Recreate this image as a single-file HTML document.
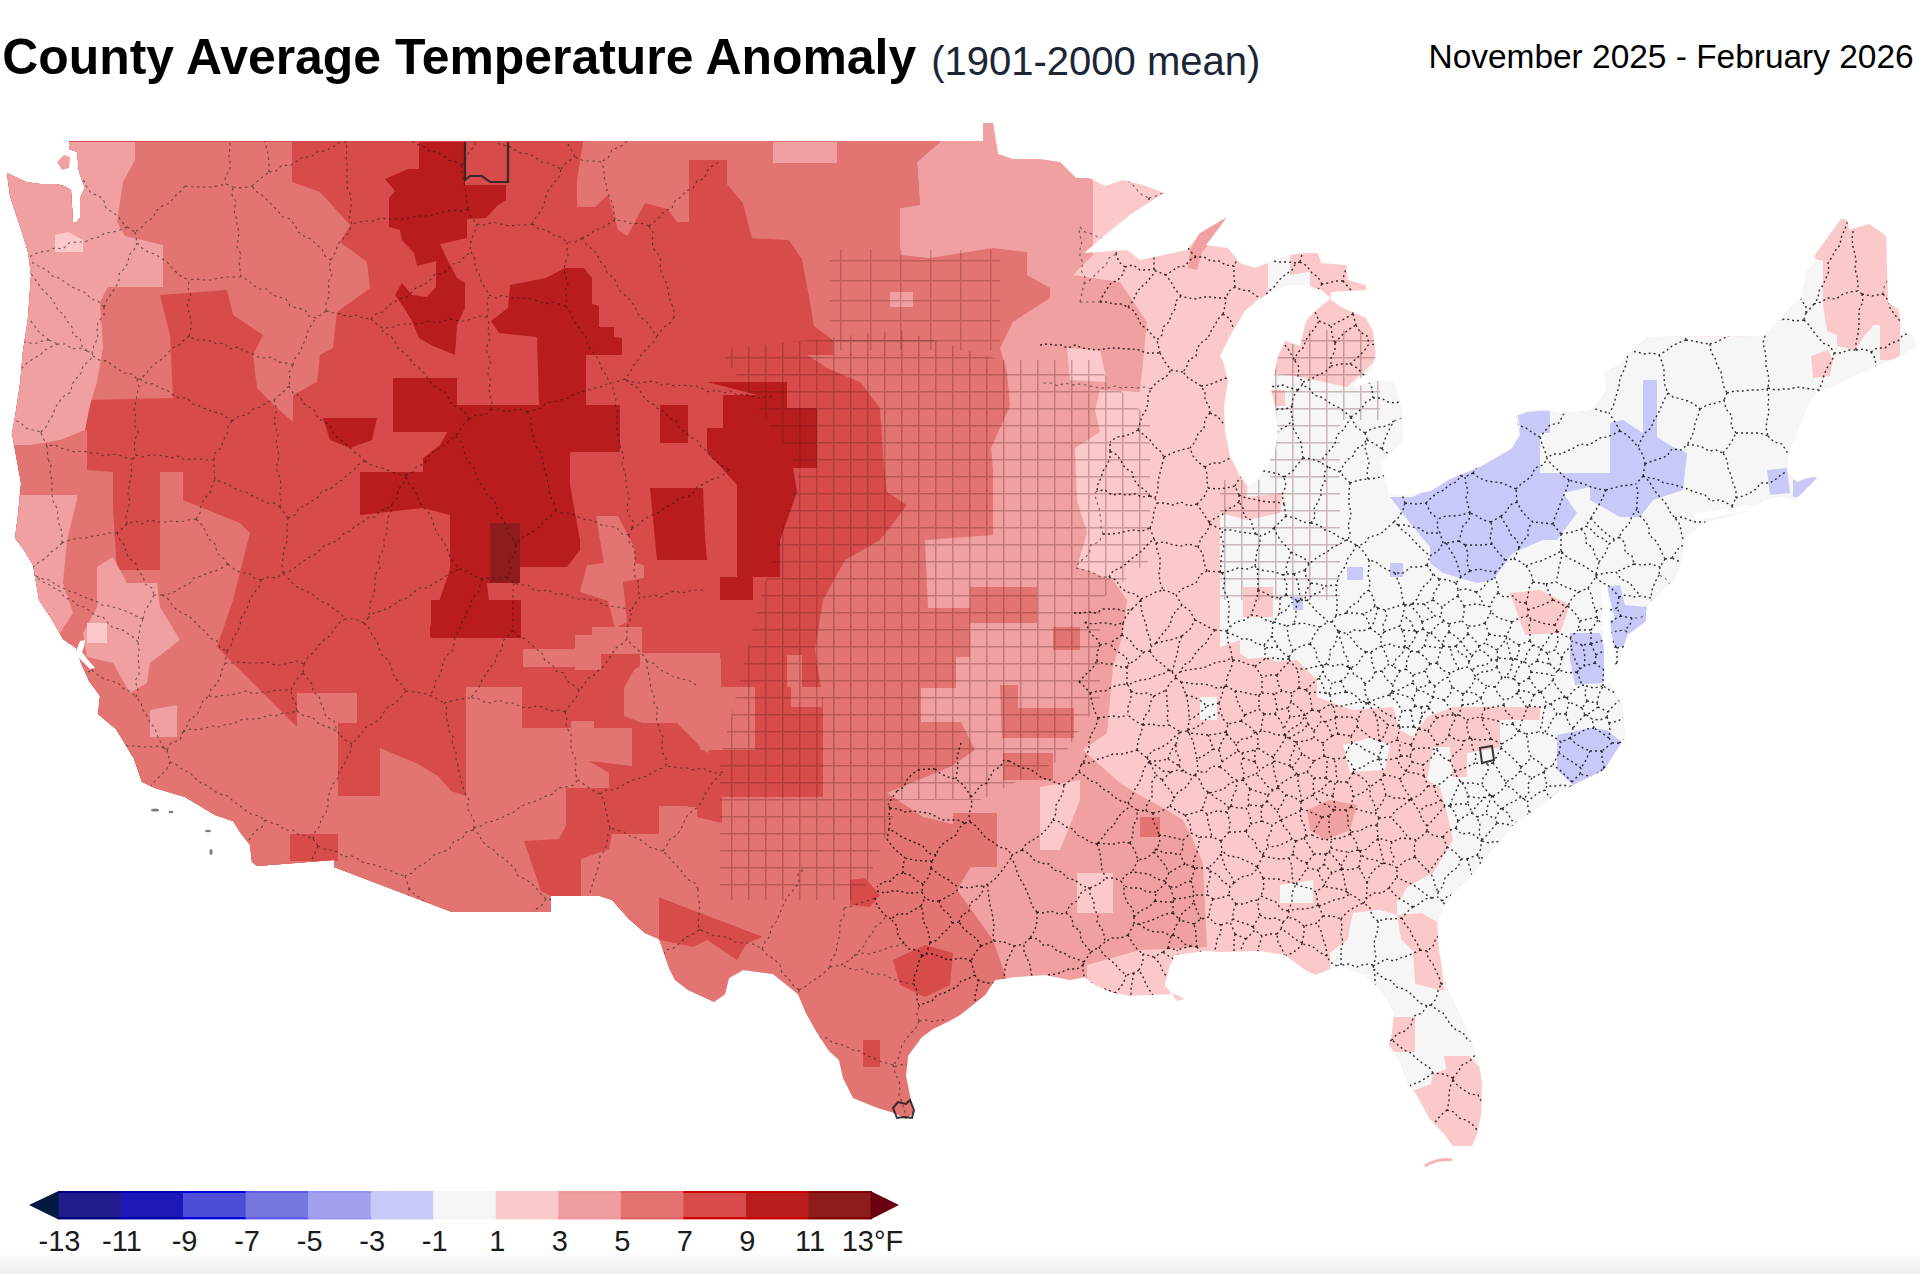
<!DOCTYPE html>
<html><head><meta charset="utf-8"><style>
html,body{margin:0;padding:0;background:#fff;width:1920px;height:1274px;overflow:hidden}
svg{position:absolute;left:0;top:0;display:block}
text{font-family:"Liberation Sans",sans-serif}
</style></head><body>
<svg width="1920" height="1274" viewBox="0 0 1920 1274">
<defs><clipPath id="us"><polygon points="69,141 983,141 983,123 993,123 998,154 1013,159 1039,159 1060,162 1076,178 1089,178 1105,186 1123,180 1146,186 1164,193 1131,214 1105,235 1084,253 1127,250 1140,260 1187,250 1200,233 1227,217 1206,245 1228,248 1240,263 1255,268 1275,260 1290,255 1305,253 1318,253 1321,263 1346,265 1348,280 1366,285 1366,290 1331,292 1331,300 1343,308 1366,318 1373,331 1376,356 1371,371 1356,381 1353,388 1376,381 1393,381 1401,406 1403,441 1380,462 1389,495 1409,495 1431,491 1450,479 1482,466 1511,449 1520,435 1516,416 1533,410 1551,411 1560,414 1593,410 1607,390 1605,372 1621,364 1625,358 1647,337 1764,336 1777,323 1791,307 1801,299 1807,271 1815,263 1815,255 1841,219 1847,220 1849,230 1869,224 1886,236 1888,303 1898,309 1902,327 1914,339 1916,346 1896,358 1876,366 1857,374 1837,384 1817,392 1809,402 1801,421 1793,441 1789,447 1787,472 1797,482 1813,476 1817,478 1795,500 1784,496 1764,500 1748,511 1703,523 1691,533 1684,537 1682,560 1674,580 1662,590 1648,604 1646,612 1646,621 1627,635 1620,659 1608,678 1622,706 1625,737 1604,770 1561,791 1514,824 1467,880 1453,892 1441,913 1437,922 1439,951 1446,986 1462,1019 1472,1045 1479,1064 1482,1085 1481,1115 1477,1134 1472,1146 1453,1146 1444,1134 1429,1118 1418,1097 1408,1083 1399,1059 1389,1045 1392,1033 1394,1012 1382,991 1364,974 1340,965 1315,975 1305,970 1285,955 1260,951 1220,952 1205,951 1175,955 1170,965 1165,985 1177,1001 1185,999 1175,994 1152,995 1130,996 1110,992 1090,982 1085,977 1070,980 1045,975 1015,977 995,980 985,995 960,1015 949,1021 933,1029 922,1037 916,1045 908,1056 906,1076 910,1096 914,1113 906,1119 894,1113 875,1107 853,1098 843,1078 839,1060 829,1051 816,1031 806,1013 798,994 788,986 773,974 743,970 729,978 725,994 714,1002 688,990 675,980 669,968 659,939 645,933 629,919 612,900 600,896 551,896 551,912 452,912 334,867 334,860 257,866 252,862 250,845 240,832 233,821 215,815 185,797 155,788 142,782 134,759 116,729 98,714 100,696 89,681 81,663 76,648 63,639 51,618 39,600 33,565 24,550 15,538 18,515 21,483 15,450 12,433 15,417 20,384 23,351 28,318 31,275 28,252 21,229 10,196 7,173 26,182 40,184 56,184 64,186 71,190 73,222 76,223 80,218 80,198 85,188 79,172 77,152 69,149"/></clipPath>
<pattern id="grid" width="17" height="17" patternUnits="userSpaceOnUse"><path d="M0 0H17M0 0V17" fill="none" stroke="#501414" stroke-opacity="0.28" stroke-width="3"/></pattern>
<pattern id="grid2" width="30" height="20" patternUnits="userSpaceOnUse"><path d="M0 0H30M0 0V20" fill="none" stroke="#501414" stroke-opacity="0.24" stroke-width="3"/></pattern>
<linearGradient id="sh" x1="0" y1="0" x2="0" y2="1"><stop offset="0" stop-color="#fff"/><stop offset="1" stop-color="#efefef"/></linearGradient></defs>
<rect x="0" y="1250" width="1920" height="24" fill="url(#sh)"/>
<text x="2.2" y="74" font-size="49.9" font-weight="bold" fill="#000">County Average Temperature Anomaly</text>
<text x="931.2" y="74.5" font-size="40" fill="#1b2536">(1901-2000 mean)</text>
<text x="1428.5" y="67.5" font-size="33.45" fill="#000">November 2025 - February 2026</text>
<polygon points="69,141 983,141 983,123 993,123 998,154 1013,159 1039,159 1060,162 1076,178 1089,178 1105,186 1123,180 1146,186 1164,193 1131,214 1105,235 1084,253 1127,250 1140,260 1187,250 1200,233 1227,217 1206,245 1228,248 1240,263 1255,268 1275,260 1290,255 1305,253 1318,253 1321,263 1346,265 1348,280 1366,285 1366,290 1331,292 1331,300 1343,308 1366,318 1373,331 1376,356 1371,371 1356,381 1353,388 1376,381 1393,381 1401,406 1403,441 1380,462 1389,495 1409,495 1431,491 1450,479 1482,466 1511,449 1520,435 1516,416 1533,410 1551,411 1560,414 1593,410 1607,390 1605,372 1621,364 1625,358 1647,337 1764,336 1777,323 1791,307 1801,299 1807,271 1815,263 1815,255 1841,219 1847,220 1849,230 1869,224 1886,236 1888,303 1898,309 1902,327 1914,339 1916,346 1896,358 1876,366 1857,374 1837,384 1817,392 1809,402 1801,421 1793,441 1789,447 1787,472 1797,482 1813,476 1817,478 1795,500 1784,496 1764,500 1748,511 1703,523 1691,533 1684,537 1682,560 1674,580 1662,590 1648,604 1646,612 1646,621 1627,635 1620,659 1608,678 1622,706 1625,737 1604,770 1561,791 1514,824 1467,880 1453,892 1441,913 1437,922 1439,951 1446,986 1462,1019 1472,1045 1479,1064 1482,1085 1481,1115 1477,1134 1472,1146 1453,1146 1444,1134 1429,1118 1418,1097 1408,1083 1399,1059 1389,1045 1392,1033 1394,1012 1382,991 1364,974 1340,965 1315,975 1305,970 1285,955 1260,951 1220,952 1205,951 1175,955 1170,965 1165,985 1177,1001 1185,999 1175,994 1152,995 1130,996 1110,992 1090,982 1085,977 1070,980 1045,975 1015,977 995,980 985,995 960,1015 949,1021 933,1029 922,1037 916,1045 908,1056 906,1076 910,1096 914,1113 906,1119 894,1113 875,1107 853,1098 843,1078 839,1060 829,1051 816,1031 806,1013 798,994 788,986 773,974 743,970 729,978 725,994 714,1002 688,990 675,980 669,968 659,939 645,933 629,919 612,900 600,896 551,896 551,912 452,912 334,867 334,860 257,866 252,862 250,845 240,832 233,821 215,815 185,797 155,788 142,782 134,759 116,729 98,714 100,696 89,681 81,663 76,648 63,639 51,618 39,600 33,565 24,550 15,538 18,515 21,483 15,450 12,433 15,417 20,384 23,351 28,318 31,275 28,252 21,229 10,196 7,173 26,182 40,184 56,184 64,186 71,190 73,222 76,223 80,218 80,198 85,188 79,172 77,152 69,149" fill="#fcc9ca"/><g clip-path="url(#us)"><polygon points="1273,373 1300,377 1347,387 1373,363 1390,290 1920,250 1920,1200 1300,1200 1300,975 1330,975 1330,953 1347,940 1353,913 1377,910 1400,900 1407,887 1433,873 1453,840 1447,813 1440,787 1427,780 1433,747 1450,747 1453,777 1467,777 1467,753 1500,747 1500,720 1540,720 1540,707 1453,707 1427,717 1413,737 1400,730 1393,707 1353,710 1333,703 1317,697 1317,680 1297,660 1253,663 1240,653 1240,640 1220,647 1220,513 1247,520 1280,513 1283,493 1247,497 1250,420 1262,380" fill="#f6f6f6"/><polygon points="1243,587 1273,587 1273,617 1243,617" fill="#fcc9ca"/><polygon points="1200,660 1237,660 1267,657 1300,673 1323,705 1200,705" fill="#fcc9ca"/><polygon points="1510,593 1540,590 1570,605 1560,633 1525,635" fill="#fcc9ca"/><polygon points="1433,747 1450,747 1453,777 1467,777 1467,753 1500,747 1500,720 1433,720" fill="#fcc9ca"/><polygon points="1330,880 1397,880 1397,915 1373,908 1349,911 1349,937 1330,945" fill="#fcc9ca"/><polygon points="1397,915 1422,913 1437,922 1444,991 1415,984 1413,951 1401,939" fill="#fcc9ca"/><polygon points="1389,1017 1415,1017 1415,1052 1389,1052" fill="#fcc9ca"/><polygon points="1444,1056 1470,1056 1478,1066 1500,1080 1500,1200 1400,1200 1400,1095 1415,1090 1431,1084 1433,1074 1446,1069" fill="#fcc9ca"/><polygon points="1815,200 1900,200 1900,360 1880,360 1880,325 1874,325 1865,335 1855,350 1837,346 1837,335 1827,331 1823,305 1823,261 1815,259" fill="#fcc9ca"/><polygon points="1811,356 1828,350 1833,360 1830,376 1813,378" fill="#fcc9ca"/><polygon points="1200,697 1217,697 1217,720 1200,720" fill="#f6f6f6"/><polygon points="1343,745 1370,738 1390,745 1385,770 1350,772" fill="#f6f6f6"/><polygon points="1280,885 1313,880 1313,903 1280,903" fill="#f6f6f6"/><polygon points="1390,497 1413,497 1453,477 1513,447 1520,427 1517,413 1550,410 1550,433 1540,433 1540,473 1610,473 1610,423 1623,420 1643,433 1643,380 1657,380 1657,437 1673,447 1687,453 1683,490 1653,500 1640,517 1620,517 1590,500 1590,487 1563,493 1577,513 1557,540 1543,540 1513,553 1493,580 1477,583 1443,573 1430,563 1430,547 1410,523" fill="#c9c9f9"/><polygon points="1347,567 1363,567 1363,580 1347,580" fill="#c9c9f9"/><polygon points="1390,563 1403,563 1403,577 1390,577" fill="#c9c9f9"/><polygon points="1293,597 1303,597 1303,610 1293,610" fill="#c9c9f9"/><polygon points="1767,470 1787,468 1790,493 1770,495" fill="#c9c9f9"/><polygon points="1793,480 1817,477 1817,497 1793,497" fill="#c9c9f9"/><polygon points="1607,587 1620,585 1625,605 1647,607 1647,630 1632,647 1620,640" fill="#c9c9f9"/><polygon points="1570,633 1600,633 1607,655 1603,683 1575,685 1570,660" fill="#c9c9f9"/><polygon points="1607,620 1647,620 1647,647 1615,647" fill="#c9c9f9"/><polygon points="1557,735 1590,728 1607,730 1625,745 1607,770 1575,787 1557,770" fill="#c9c9f9"/><polygon points="0,100 1093,100 1093,255 1073,275 1120,282 1147,322 1140,392 1100,390 1095,410 1100,432 1075,448 1077,500 1087,533 1077,567 1113,580 1127,600 1123,633 1113,667 1107,733 1083,750 1120,783 1143,797 1167,810 1183,820 1193,840 1203,863 1207,947 1140,950 1087,965 1087,1000 0,1200" fill="#f0a0a0"/><polygon points="1040,787 1080,780 1080,800 1060,850 1040,850" fill="#fcc9ca"/><polygon points="1077,873 1113,873 1113,913 1077,913" fill="#fcc9ca"/><polygon points="1067,348 1100,350 1107,382 1070,380" fill="#fcc9ca"/><polygon points="0,100 940,100 940,142 917,162 920,205 900,208 900,255 930,258 993,248 1027,252 1027,275 1050,288 1050,298 1013,322 1000,348 1007,372 1010,406 991,448 993,470 993,535 925,540 928,608 970,608 970,657 956,657 956,688 921,688 921,722 961,722 975,750 950,767 887,793 923,817 990,833 973,863 957,890 993,940 1007,980 1007,1200 0,1200" fill="#e27471"/><polygon points="970,587 1037,587 1037,623 970,623" fill="#e27471"/><polygon points="1000,685 1018,685 1018,708 1074,708 1074,738 1002,738" fill="#e27471"/><polygon points="1003,753 1053,753 1053,780 1003,780" fill="#e27471"/><polygon points="953,813 997,813 997,867 953,867" fill="#e27471"/><polygon points="1053,627 1080,627 1080,650 1053,650" fill="#e27471"/><polygon points="0,100 640,100 627,100 627,236 645,203 668,209 677,222 689,222 689,160 727,160 727,184 743,203 752,238 789,240 802,259 810,301 814,326 833,340 833,355 807,355 827,368 860,382 880,408 883,455 887,492 907,505 880,540 845,560 823,600 815,650 823,700 823,797 722,797 722,823 697,817 697,807 660,807 660,840 640,840 640,890 763,937 747,943 737,960 707,940 693,947 660,940 0,940" fill="#d84b4b"/><polygon points="0,142 135,142 292,142 292,182 320,192 350,225 340,242 367,262 370,288 337,312 333,348 320,355 317,382 293,395 293,422 277,408 257,388 253,355 263,335 233,315 227,290 160,295 170,335 173,398 90,400 85,430 60,440 0,445" fill="#e27471"/><polygon points="583,100 940,100 940,142 917,162 920,205 900,208 900,255 833,340 814,326 810,301 802,259 789,240 752,238 743,203 727,184 727,160 689,160 689,222 677,222 668,209 645,203 627,236 618,230 608,195 595,207 577,207 577,180 583,142" fill="#e27471"/><polygon points="773,142 837,142 837,163 773,163" fill="#f0a0a0"/><polygon points="0,435 87,430 87,470 113,472 160,472 183,472 183,500 240,523 250,533 233,600 217,647 297,727 297,693 357,693 357,723 338,723 338,796 355,796 380,796 380,748 416,763 438,776 451,791 466,796 466,687 522,687 522,728 571,728 571,721 594,721 594,728 632,728 632,766 589,761 609,773 609,788 566,788 566,826 559,839 524,841 541,891 551,896 581,896 581,859 609,849 612,834 659,834 659,806 687,806 705,826 720,826 720,889 659,889 659,960 0,960" fill="#e27471"/><polygon points="113,472 160,472 160,570 117,570 113,508" fill="#d84b4b"/><polygon points="290,834 338,834 338,861 290,861" fill="#d84b4b"/><polygon points="634,670 657,655 677,663 687,658 720,660 720,738 707,753 692,738 677,723 642,723 624,716 624,688" fill="#e27471"/><polygon points="523,649 575,649 575,635 592,635 592,627 642,627 642,654 601,654 601,670 575,670 575,667 523,667" fill="#e27471"/><polygon points="596,516 618,516 635,549 635,563 644,565 644,578 623,582 627,622 615,628 608,601 580,592 587,565 604,563 601,546" fill="#e27471"/><polygon points="640,653 720,653 720,717 640,717" fill="#e27471"/><polygon points="640,840 660,840 660,890 640,890" fill="#e27471"/><polygon points="0,142 135,142 135,160 123,182 117,222 125,236 163,245 163,287 108,287 100,302 103,348 97,382 90,405 85,430 60,440 30,445 0,445" fill="#f0a0a0"/><polygon points="0,495 77,495 77,500 67,540 63,583 73,613 60,633 40,640 0,640" fill="#f0a0a0"/><polygon points="97,567 113,557 127,583 157,583 160,607 180,640 150,663 147,683 130,693 113,663 87,657 83,633 97,607" fill="#f0a0a0"/><polygon points="150,710 177,705 177,737 150,737" fill="#f0a0a0"/><polygon points="55,235 68,232 83,240 83,252 55,252" fill="#fcc9ca"/><polygon points="87,623 107,623 107,643 87,643" fill="#fcc9ca"/><polygon points="419,142 465,142 465,185 506,185 506,200 497,206 486,218 467,219 467,238 440,244 448,261 457,278 465,283 465,308 457,325 455,355 433,346 419,338 412,321 404,308 395,295 402,283 412,295 427,297 436,287 436,261 417,266 414,253 402,240 400,230 389,227 389,198 395,191 385,179 408,169 419,169" fill="#b81c1c"/><polygon points="510,285 546,278 565,268 584,268 592,278 592,304 599,306 599,327 614,327 614,337 622,338 622,355 586,355 586,405 620,405 620,452 570,452 570,485 580,540 580,550 567,567 520,567 520,583 487,583 493,637 430,637 430,627 450,570 450,515 423,508 360,515 360,472 423,472 423,458 440,445 457,415 457,405 539,405 537,337 499,333 491,321 508,308" fill="#b81c1c"/><polygon points="393,378 457,378 457,432 393,432" fill="#b81c1c"/><polygon points="323,418 377,418 372,440 350,448 330,440" fill="#b81c1c"/><polygon points="707,382 787,382 787,408 817,408 817,468 793,468 797,492 780,540 780,577 753,577 753,600 720,600 720,577 737,577 737,485 707,452 707,428 723,428 723,395 757,395" fill="#b81c1c"/><polygon points="660,405 688,405 688,443 660,443" fill="#b81c1c"/><polygon points="650,488 703,488 705,537 707,560 657,560" fill="#b81c1c"/><polygon points="431,600 521,600 521,638 431,638" fill="#b81c1c"/><polygon points="490,523 520,523 520,583 490,583" fill="#8f1c1c"/><polygon points="893,960 925,945 953,953 950,985 925,997 900,985" fill="#d84b4b"/><polygon points="850,880 865,878 880,895 870,907 850,905" fill="#d84b4b"/><polygon points="863,1040 880,1040 880,1067 863,1067" fill="#d84b4b"/><polygon points="1268,258 1290,255 1290,275 1310,272 1310,293 1268,293" fill="#f6f6f6"/><polygon points="1307,810 1330,800 1357,805 1350,830 1325,840 1310,830" fill="#f0a0a0"/><polygon points="1270,390 1285,390 1285,406 1270,406" fill="#fcc9ca"/><polygon points="1188,268 1190,250 1200,233 1227,217 1212,240 1202,252 1197,270" fill="#f0a0a0"/><polygon points="890,292 913,292 913,307 890,307" fill="#f0a0a0"/><polygon points="1140,817 1160,817 1160,837 1140,837" fill="#e27471"/><polygon points="700,659 721,659 721,687 755,687 755,750 700,750" fill="#e27471"/><polygon points="787,655 802,655 802,687 822,687 822,707 791,707 791,687 787,687" fill="#e27471"/></g><g clip-path="url(#us)"><polygon points="720,350 900,330 1000,360 1090,360 1150,420 1150,560 1100,600 1100,700 1060,760 980,800 900,800 860,900 720,900 720,760 760,600 800,470" fill="url(#grid)"/><polygon points="1270,330 1380,330 1380,420 1340,420 1340,600 1220,600 1220,480 1270,480" fill="url(#grid)"/><polygon points="830,250 1000,250 1000,350 830,350" fill="url(#grid2)"/></g><g clip-path="url(#us)" fill="none" stroke="#1a1a1a"><path d="M1607 717L1608 712M1607 717L1609 723M1608 712L1614 705L1620 700M1609 723L1618 721L1626 716M1635 769L1632 762L1628 756L1623 750L1619 743M1619 743L1629 736M1109 577L1113 571L1120 568L1126 564L1131 559L1138 554L1143 550L1148 544L1154 539M1103 534L1111 534L1119 533L1127 531L1134 530L1142 531L1150 528M1154 539L1150 528M1110 451L1110 442M1110 451L1110 458L1107 465L1103 471L1101 478L1098 484L1097 491M1138 430L1131 434L1124 436L1117 437L1110 442M1138 430L1140 423L1142 416L1146 410L1148 403L1148 396L1151 389M1150 496L1145 490L1139 486L1134 480L1132 472L1125 468L1121 461L1117 455L1110 451M1150 496L1142 497L1135 494L1127 495L1120 494L1112 495L1105 490L1097 491M890 808L898 809L905 812L913 811L920 812L928 813L935 816L942 820L950 820L958 820L965 823M890 808L889 815L890 822L889 829M965 823L959 828L956 835L950 839L944 843L939 848L936 855M936 855L928 853L923 846L916 843L909 840L902 837L896 833L889 829M903 873L903 865L905 858M903 873L896 875L891 881L883 882L877 887M887 839L892 846L898 852L905 858M931 868L929 877L923 884M931 868L932 861M923 884L916 880L910 875L903 873M932 861L923 861L914 860L905 858M890 808L888 805M889 829L887 839M936 855L932 861M914 984L917 991L917 999L919 1006M922 956L926 954M922 956L918 963L917 970L914 977L914 984M926 954L933 954L941 957L948 960L956 959L964 958L971 961M971 961L973 968L975 975M975 975L968 979L961 981L957 987L950 990L944 993L937 995L932 1001L925 1003L919 1006M1587 701L1585 694L1586 686M1587 701L1582 708M1567 698L1569 702M1567 698L1574 690L1582 685M1582 708L1576 705L1569 702M1582 685L1586 686M1587 701L1597 703M1597 703L1599 694L1603 686M1586 686L1594 688L1603 686M1597 703L1598 707M1598 707L1608 712M1619 694L1611 691L1603 686M1603 686L1603 686M1609 723L1610 730L1609 738M1619 743L1612 743M1609 738L1612 743M1427 565L1419 567L1411 567L1403 573L1395 573M1427 565L1430 556M1395 573L1388 570L1382 567L1376 562L1369 560M1398 525L1403 531L1409 535L1414 541L1419 546L1424 551L1430 556M1398 525L1394 522M1394 522L1388 527L1383 532L1377 535L1369 537L1365 543L1358 546M1369 560L1364 552L1358 546M1155 498L1158 490L1158 481L1160 473L1162 465L1164 457M1155 498L1157 503M1157 503L1165 503L1173 505L1181 502L1189 506L1197 504M1205 467L1207 474L1207 481L1208 488M1205 467L1198 462L1193 456L1190 448M1197 504L1204 497L1208 488M1164 457L1172 453L1181 450L1190 448M1150 496L1155 498M1138 430L1144 435L1150 440L1154 446L1160 451L1164 457M1150 528L1153 520L1154 511L1157 503M897 791L904 787L907 780L912 774L918 770M897 791L892 798L888 805M965 823L970 822M970 822L969 814L972 805L971 797M918 770L926 769L935 769M935 769L941 774L948 777L956 779M971 797L967 790L962 784L956 779M1009 761L1015 764L1022 768L1030 769L1036 773L1042 778L1050 780L1056 783L1064 785M1009 761L1004 760M970 822L976 826L981 832L986 838L993 842L999 847L1007 849L1012 855M1022 850L1012 855M1022 850L1026 844L1033 840L1039 836L1044 832L1049 826L1053 820M1053 820L1056 813L1056 805L1060 799L1063 792L1064 785M971 797L976 792L980 786L987 783L990 777L994 770L1000 767L1004 760M975 975L978 980M970 1020L971 1012L975 1004L975 996L977 988L978 980M1064 785L1072 779L1079 772M1081 765L1079 772M959 922L962 915L969 911L970 903L977 899L982 893L984 886M959 922L952 923M952 923L950 915L942 909L939 901M939 901L947 897L954 893L961 887M961 887L969 888L977 886L984 886M981 946L977 939L970 934L964 929L959 922M981 946L994 941M994 941L993 934L994 926L993 919L992 912L990 905L989 898L988 891L988 884M988 884L984 886M981 946L975 953L971 961M930 943L937 940L942 934L948 929L952 923M930 943L926 954M931 868L937 873L943 877L949 880L954 885L961 887M1012 855L1011 858M1011 858L1006 865L1001 872L995 879L988 884M930 943L929 935L927 928L923 921L923 913L921 906M939 901L932 901L925 898M921 906L925 898M923 884L922 892M877 891L885 893L892 891L900 891L907 893L915 893L922 892M922 892L925 898M904 943L898 936L897 926L891 919M891 919L886 916M922 956L918 950L909 949L904 943M921 906L914 910L907 914L898 914L891 919M875 898L877 905L881 911L886 916M1476 592L1467 589L1458 590M1476 592L1483 588L1488 581L1495 578M1470 571L1461 577M1470 571L1479 569L1487 571L1495 572M1461 577L1456 583M1495 572L1495 578M1456 583L1458 590M1607 717L1600 720L1592 719M1609 738L1602 733L1594 728M1594 728L1592 719M1598 707L1587 715M1592 719L1587 715M1582 708L1585 715M1587 715L1585 715M1395 573L1398 581L1401 588L1402 596L1404 604M1404 604L1395 607L1385 610M1378 608L1385 610M1378 608L1375 606M1369 560L1369 567L1368 575L1370 582L1369 590M1375 606L1373 597L1369 590M1375 606L1370 611L1363 614M1369 590L1362 595L1358 602L1351 606L1346 613M1346 613L1354 613L1363 614M1378 608L1376 615L1374 622L1370 628M1363 614L1368 620L1370 628M1311 523L1319 525L1325 530L1332 532L1339 537L1346 540M1311 523L1315 517L1314 509L1318 502L1321 495L1321 488L1325 481L1324 473L1328 467M1350 483L1345 478L1340 472M1350 483L1349 491L1349 498L1349 505L1351 512L1350 519L1348 526L1350 533L1348 540M1340 472L1328 467M1346 540L1348 540M1250 345L1244 339L1239 333L1233 327L1230 319L1223 314M1250 345L1247 352L1241 357L1236 363L1234 371L1230 377M1201 386L1209 385L1216 382L1223 379L1230 377M1201 386L1195 382L1188 378L1183 372M1223 314L1218 319L1215 325L1211 331L1208 338L1202 342L1197 348L1196 356L1189 360L1187 366L1183 372M1281 342L1280 334L1278 326L1280 318L1278 311M1281 342L1273 344L1265 341L1258 344L1250 345M1278 311L1270 306L1263 298M1263 298L1256 296L1250 291L1242 290L1235 287M1235 287L1229 291L1226 298M1223 314L1225 306L1226 298M1040 345L1047 344L1054 345L1061 345L1068 348L1075 345L1082 348L1089 349L1096 350L1104 349L1111 348L1118 348L1125 349L1132 349L1139 350L1146 353L1153 353L1160 353M1151 389L1157 382L1166 377L1171 370M1160 353L1165 362L1171 370M1210 413L1205 419L1204 428L1198 434L1195 442L1190 448M1210 413L1209 406L1205 400L1205 392L1201 386M1171 370L1183 372M1239 495L1235 486M1239 495L1246 498L1253 499L1261 501L1269 502L1277 502L1284 504M1235 486L1239 479L1245 473L1250 466M1250 466L1257 466L1263 471L1270 472L1278 474L1284 477M1284 504L1282 495L1286 486L1284 477M1239 502L1239 495M1239 502L1233 507L1227 509L1222 515L1215 518L1209 522M1209 522L1205 516L1201 510L1197 504M1208 488L1217 489L1226 488L1235 486M1286 516L1280 522L1274 528M1286 516L1284 504M1256 534L1260 536M1256 534L1253 528L1251 520L1244 516L1243 508L1239 502M1274 528L1268 533L1260 536M1244 455L1250 466M1244 455L1236 457L1228 459L1221 463L1212 463L1205 467M1311 523L1303 522L1295 518L1286 516M1303 458L1297 465L1292 472L1284 477M1303 458L1312 459L1320 462M1328 467L1320 462M1231 426L1234 433L1237 441L1240 448L1244 455M1231 426L1237 423L1244 422L1251 418L1258 417L1265 417L1271 411L1278 409L1286 409L1292 406M1244 455L1251 451L1256 446L1262 442L1268 438L1275 434L1281 429L1287 426L1293 420M1292 406L1291 413L1293 420M1210 413L1217 416L1223 423L1231 426M1244 455L1244 455M1298 390L1293 397L1292 406M1298 390L1290 388L1283 385L1275 387L1268 385L1261 381L1252 384L1245 382L1238 379L1230 377M1303 458L1302 450L1301 443L1297 435L1293 428L1293 420M1100 302L1103 295L1107 289L1111 283L1118 280L1123 274L1125 267M1125 267L1119 262L1116 254M1149 198L1149 206L1153 212L1154 219M1116 254L1118 246M1263 298L1268 292L1274 287L1279 280L1285 275L1292 270L1296 263M1235 287L1234 277L1234 266M1238 257L1234 266M1296 263L1288 262L1280 262L1272 261L1264 258L1256 258L1249 254L1240 255M956 779L957 772L958 765L957 757L959 750L961 743M1037 912L1044 913L1051 911L1059 914L1066 913M1037 912L1032 906L1030 899L1027 892L1024 885L1020 879L1017 872L1015 864L1011 858M1022 850L1029 854L1034 860L1041 863L1049 864L1054 870L1062 872L1067 878L1075 880L1081 885L1088 888M1066 913L1070 905L1077 901L1081 893L1088 888M994 941L1004 942L1014 946M978 980L986 983L993 983L1001 985M1001 985L1004 977L1005 969L1007 961L1011 953L1014 946M1037 912L1037 921L1035 930L1030 938M1030 938L1024 944M1014 946L1024 944M1453 1080L1458 1086L1464 1090L1470 1094L1478 1095L1482 1102L1489 1105L1494 1111L1501 1114L1508 1116L1513 1122M1453 1080L1450 1087L1449 1094L1449 1102L1447 1110M1447 1110L1454 1112L1459 1118L1466 1120L1472 1124L1477 1130L1485 1131L1490 1135M1053 820L1060 822L1066 827L1073 829L1077 835L1084 838L1090 842L1097 844M1088 888L1090 888M1090 888L1099 884L1106 878M1097 844L1100 852L1101 861L1102 870L1106 878M1098 718L1105 717L1113 716L1120 717L1128 715M1098 718L1096 726L1092 733L1089 740L1089 749L1086 756L1083 763M1083 763L1091 763L1098 759L1106 757L1113 754L1122 754L1130 752L1137 750M1137 750L1138 741L1141 733L1143 725M1143 725L1135 721L1128 715M1079 682L1085 687L1090 693M1090 693L1092 702L1094 710L1098 718M1081 765L1083 763M1090 693L1098 691L1105 691L1112 687L1119 685L1127 684M1131 691L1131 699L1128 707L1128 715M1131 691L1128 685M1127 684L1128 685M1085 622L1092 624L1100 623L1108 623L1115 625L1123 623M1074 613L1081 613L1089 612L1096 613L1103 609L1110 609L1117 609L1124 611L1132 609M1123 623L1126 616L1132 609M1220 572L1207 571M1220 572L1221 565L1221 558L1223 551L1224 544L1221 537L1223 530M1207 571L1204 563L1203 554L1198 547M1198 547L1201 538L1207 532L1210 524M1210 524L1216 527L1223 530M1256 534L1248 533L1240 532L1232 530L1223 530M1222 573L1220 572M1222 573L1230 571L1238 568L1247 569L1255 566M1255 566L1256 558L1257 551L1260 544L1260 536M1154 539L1156 543M1209 522L1210 524M1156 543L1164 542L1173 545L1181 546L1189 544L1198 547M1464 606L1464 613L1462 621M1464 606L1474 604L1483 605M1485 623L1477 626L1468 626M1485 623L1491 612M1462 621L1468 626M1483 605L1490 607M1491 612L1490 607M1458 596L1464 606M1458 596L1458 590M1476 592L1481 598L1483 605M1468 634L1468 626M1468 634L1461 641M1449 632L1449 624M1449 632L1455 636L1461 641M1449 624L1462 621M1461 641L1461 641M1498 593L1493 599L1490 607M1498 593L1498 585L1495 578M1557 631L1558 641L1555 650M1557 631L1550 635L1546 643L1541 648M1555 650L1547 653M1547 653L1541 649M1541 648L1541 649M1603 686L1603 678L1604 670M1618 664L1617 663M1617 663L1611 667L1604 670M1557 631L1555 625M1557 631L1557 631M1530 641L1533 645M1530 641L1530 633L1529 626L1531 619M1533 645L1541 648M1555 625L1546 624L1539 622L1531 619M1498 593L1504 597L1513 596L1518 602L1526 603M1512 622L1519 618L1528 616M1512 622L1505 620L1497 617L1491 612M1526 603L1528 610M1528 616L1528 610M1343 281L1349 288L1356 295M1343 281L1335 281L1328 283L1322 284M1353 314L1346 318L1338 322L1331 326M1353 314L1353 304L1356 295M1322 284L1317 291L1312 298M1312 298L1312 306L1316 314L1319 321M1319 321L1331 326M1349 261L1347 267L1344 274L1343 281M1301 245L1302 254L1300 262M1300 262L1307 266L1312 273L1318 277L1322 284M1278 311L1285 307L1292 305L1298 303L1305 300L1312 298M1300 262L1296 263M1281 342L1287 347L1291 354L1295 361M1295 361L1297 353L1303 348L1306 340L1310 334L1315 328L1319 321M1351 417L1347 424L1343 430L1337 435L1335 444L1330 450L1325 456L1320 462M1351 417L1356 427L1365 433M1340 472L1343 466L1347 460L1353 456L1356 449L1363 445L1367 439M1365 433L1367 439M1350 483L1359 480L1368 479M1368 479L1367 471L1369 463L1367 455L1365 448L1367 440M1367 440L1367 439M1394 522L1399 517L1403 510L1405 503M1358 546L1356 545M1368 479L1377 478L1386 475L1396 476M1356 545L1348 540M1405 503L1402 494L1398 486L1396 476M1848 217L1851 224L1853 232L1852 239L1853 247L1855 254L1856 261L1855 269L1857 276L1858 284L1858 291M1848 217L1847 224L1844 231L1841 238L1840 245L1835 251L1832 257L1828 263L1829 271L1826 278L1823 285L1819 291L1818 298L1814 304M1814 304L1821 302L1828 298L1836 299L1843 294L1850 292L1858 291M1862 294L1858 291M1862 294L1872 296L1883 294M1806 313L1806 306L1801 300L1799 292L1798 285L1795 279L1795 271L1793 264L1791 257L1787 251L1787 244L1783 237L1779 231L1781 223L1777 217M1806 313L1814 304M1643 476L1649 481L1653 488L1657 494L1662 499L1667 505L1670 512L1675 518M1643 476L1650 478L1657 479L1664 483L1671 484L1678 486L1685 488L1692 491L1698 493L1705 495L1711 501L1719 500L1725 502L1732 506M1675 518L1682 517L1689 520L1696 522L1704 522L1711 524L1719 521L1726 524M1732 506L1733 513L1733 520M1665 559L1672 558M1665 559L1662 553L1659 546L1655 540L1649 535L1649 527L1645 521L1640 516L1637 509M1643 476L1636 484M1643 476L1643 476M1672 558L1678 549L1686 543M1686 543L1682 537L1681 530L1679 523L1675 518M1637 509L1637 501L1638 492L1636 484M1739 602L1733 598L1727 595L1722 589L1714 587L1710 581L1702 579L1696 574L1690 570L1685 564L1678 561L1672 558M1530 641L1519 645M1533 645L1527 653L1525 662M1519 645L1519 652L1516 659M1516 659L1522 662M1525 662L1522 662M1226 298L1218 298L1211 297L1203 297L1196 299L1188 298L1181 296M1160 353L1157 340M1181 296L1176 301L1175 309L1171 315L1169 322L1163 327L1162 335L1157 340M1100 302L1107 302L1114 304L1121 304L1128 307M1128 307L1134 311L1138 318L1141 325L1147 329L1152 335L1157 340M1196 257L1189 250L1187 240M1196 257L1190 260L1185 266L1178 267L1172 271L1166 275M1151 243L1154 251L1154 260L1154 269M1166 275L1156 271M1154 269L1156 271M1234 266L1226 265L1219 261L1211 261L1204 257L1196 257M1181 296L1175 289L1171 282L1166 275M1125 267L1133 265L1140 270L1147 270L1154 269M1128 307L1133 301L1136 294L1140 288L1146 283L1151 277L1156 271M1034 980L1031 973L1030 965L1027 958L1024 952L1024 944M1447 1110L1441 1115L1436 1121L1433 1128L1427 1134L1423 1140M1127 667L1129 664M1127 667L1119 667L1112 664L1104 664L1097 661M1129 664L1126 657L1120 653L1114 649L1110 643M1097 661L1097 653L1100 645M1100 645L1110 643M1169 670L1163 674L1155 676L1149 679L1141 680L1134 682L1128 685M1169 670L1162 664L1155 659L1150 651M1127 684L1127 675L1127 667M1150 651L1144 652M1144 652L1137 659L1129 664M1079 682L1085 675L1092 669L1097 661M1122 635L1130 640L1135 648L1144 652M1122 635L1110 643M1085 622L1088 628L1091 634L1097 639L1100 645M1123 623L1122 635M1141 599L1141 600M1141 599L1148 596L1156 592L1163 590M1141 600L1141 608L1143 616L1146 624L1147 631L1150 639L1151 647M1163 590L1170 592L1176 595M1156 643L1160 637L1165 631L1170 625L1172 617L1176 611L1182 605M1156 643L1151 647M1176 595L1182 605M1109 577L1116 580L1121 588L1127 592L1135 594L1141 599M1132 609L1141 600M1156 543L1157 550L1160 558L1160 566L1159 574L1160 582L1163 590M1150 651L1151 647M1207 571L1200 575L1196 583L1189 586L1182 589L1176 595M1182 636L1190 629L1195 620M1182 636L1174 639L1165 641L1156 643M1195 620L1190 611L1182 605M1169 670L1172 672M1172 672L1174 665L1176 658L1178 650L1179 643L1182 636M1154 696L1150 703L1149 711L1144 717L1143 725M1154 696L1166 690M1166 690L1167 697L1167 704L1168 711L1167 718L1169 725M1143 725L1152 724L1160 726L1169 725M1131 691L1138 694L1147 693L1154 696M1143 725L1143 725M1176 678L1170 683L1166 690M1176 678L1175 676M1172 672L1175 676M1175 676L1180 672M1195 620L1201 623L1208 627L1215 630M1215 630L1210 636L1206 643L1200 648L1195 654L1191 661L1184 665L1180 672M1449 632L1444 638L1443 645M1449 624L1444 621M1443 645L1437 639L1431 633M1431 633L1436 626L1444 621M1417 632L1423 629M1417 632L1414 640L1408 648M1418 652L1411 651M1418 652L1424 646M1424 646L1428 633M1423 629L1428 633M1408 648L1411 651M1497 650L1485 643M1497 650L1502 645L1506 639M1506 639L1507 637M1489 634L1485 643M1489 634L1497 636L1506 636M1506 636L1507 637M1511 659L1498 658M1511 659L1509 649L1506 639M1498 658L1497 650M1519 645L1512 641L1507 637M1516 659L1513 659M1511 659L1513 659M1468 634L1474 639L1479 646M1485 623L1489 634M1479 646L1485 643M1512 622L1510 629L1506 636M1531 619L1528 616M1479 646L1478 649M1497 660L1498 658M1497 660L1492 660M1492 660L1486 653L1478 649M1456 646L1459 653L1466 656L1469 662M1456 646L1461 641M1461 641L1466 649L1472 656M1469 662L1472 656M1472 656L1478 649M1537 661L1550 664M1537 661L1529 666M1531 672L1529 666M1531 672L1539 673L1547 674L1554 676M1550 664L1557 671M1557 671L1554 676M1547 653L1550 664M1541 649L1537 661M1525 662L1529 666M1559 670L1562 658M1559 670L1557 671M1562 658L1555 650M1567 698L1565 697M1565 697L1561 692L1556 686L1553 680M1577 672L1582 685M1577 672L1568 673L1559 670M1553 680L1554 676M1580 669L1584 666M1580 669L1576 662L1573 654L1571 647M1584 666L1585 658L1584 651L1582 645M1582 645L1572 641M1571 647L1572 641M1577 672L1580 669M1604 670L1595 663M1595 663L1584 666M1562 658L1565 651L1571 647M1595 663L1596 655M1596 655L1591 644M1591 644L1582 645M1557 631L1563 635L1570 638M1570 638L1572 641M1495 572L1501 567L1505 560M1526 603L1528 596L1529 588L1533 582M1505 560L1514 559M1514 559L1521 562L1526 566M1526 566L1531 573L1533 582M1561 534L1561 542L1561 551M1561 534L1553 524M1514 559L1519 548M1519 548L1523 541L1528 536L1528 528L1533 522M1553 524L1543 523L1533 522M1526 566L1533 563L1541 561L1547 558L1554 555L1561 551M1553 600L1560 603L1566 607M1553 600L1549 593L1546 584M1546 584L1556 582M1556 582L1563 586L1571 589L1579 592M1579 592L1572 598L1568 606M1568 606L1566 607M1555 625L1558 619L1562 613L1566 607M1528 610L1537 607L1545 604L1553 600M1533 582L1546 584M1561 551L1562 552M1562 552L1561 560L1559 567L1558 574L1556 582M1298 390L1302 385M1351 417L1351 417M1351 417L1346 413L1340 408L1333 405L1327 401L1321 397L1314 395L1309 388L1302 385M1295 361L1299 367L1298 376L1303 382M1302 385L1303 382M1365 433L1371 429L1379 427L1387 426L1394 421M1367 440L1375 444L1382 449M1382 449L1384 442L1387 434L1390 428L1394 421M1470 571L1467 563L1468 553L1465 545M1505 560L1498 552L1492 544M1492 544L1483 545L1474 545L1465 545M1519 548L1517 540L1511 535L1508 528L1504 522L1501 516M1533 522L1527 517L1521 510L1517 502M1517 502L1510 505L1506 512L1501 516M1492 544L1490 537L1492 529L1491 522M1501 516L1491 522M1348 667L1348 659L1344 653L1343 646L1340 639L1339 631M1348 667L1341 664L1333 666L1326 664M1339 631L1338 631M1338 631L1337 637L1335 645L1330 650L1330 658L1326 664M1274 528L1277 535L1281 541L1286 546L1291 552M1346 540L1340 544L1333 547L1327 552L1321 555L1315 559L1309 564M1291 552L1297 555L1304 558L1309 564M1258 590L1265 593L1272 597L1280 598M1258 590L1258 579L1257 569M1257 569L1266 571L1275 572L1283 575M1280 598L1286 595M1286 595L1287 585L1283 575M1291 552L1289 559L1286 566L1287 574M1309 564L1305 570M1305 570L1294 574M1294 574L1287 574M1255 566L1257 569M1283 575L1287 574M1286 595L1298 601M1294 574L1298 582L1299 591L1301 600M1298 601L1301 600M1034 980L1041 978L1048 975L1056 974L1062 972L1069 969L1077 969L1083 965M1086 981L1083 973L1083 965M1030 938L1038 939L1043 945L1051 945L1057 951L1064 953L1070 957L1077 959L1084 962M1083 965L1084 962M1066 913L1072 918L1073 926L1080 931L1081 940L1086 946L1091 952M1084 962L1091 952M1090 888L1090 895L1094 901L1094 909L1098 915L1097 922L1102 929L1104 935L1105 942M1105 942L1099 947M1091 952L1099 947M1453 1078L1453 1080M1453 1078L1443 1074L1433 1073M1433 1073L1426 1078L1419 1082L1411 1085L1405 1090L1397 1095M1231 806L1229 808M1231 806L1232 798L1236 790L1237 781M1229 808L1223 802L1216 798L1210 793M1210 793L1217 791L1224 789L1230 783L1237 781M1176 678L1181 682M1181 682L1188 683L1195 684L1203 684L1210 685L1217 688L1224 687M1180 672L1187 670L1195 669L1203 668L1210 665L1217 662L1225 661L1232 658M1224 687L1226 686M1226 686L1227 677L1231 669L1233 660M1233 660L1232 658M1553 680L1548 686L1541 692M1529 678L1531 672M1529 678L1534 686L1540 692M1540 692L1541 692M1529 678L1519 684M1522 662L1517 670L1514 679M1519 684L1514 679M1513 659L1511 669L1506 677M1514 679L1506 677M1476 973L1469 975L1462 977L1455 981L1448 983L1441 984M1479 1048L1474 1043L1467 1039L1463 1033L1456 1030L1451 1025L1447 1019L1443 1013L1437 1010L1431 1005M1431 1005L1436 999L1438 991L1441 984M1348 667L1350 668M1366 652L1358 647L1353 640L1347 634M1366 652L1361 658L1358 664L1351 668M1339 631L1347 634M1350 668L1351 668M1405 605L1409 605M1405 605L1403 615M1417 632L1415 631M1415 631L1411 622L1403 615M1423 629L1422 622M1422 622L1419 615L1415 610L1409 605M1427 565L1433 574M1404 604L1405 605M1433 574L1430 581L1424 586L1420 592L1417 599L1412 604M1412 604L1409 605M1415 631L1402 630M1408 648L1405 647M1405 647L1405 638L1402 630M1403 615L1400 626M1402 630L1400 626M1385 610L1387 617L1383 625L1384 632M1400 626L1392 629L1384 632M1370 628L1370 628M1370 628L1381 636M1384 632L1381 636M1370 628L1363 631L1354 630L1347 634M1366 652L1371 652M1371 652L1381 646M1381 636L1381 646M1561 534L1572 532L1581 529M1606 490L1603 497L1599 505L1595 511L1591 518M1606 490L1598 489L1591 487L1584 484L1576 482L1569 480M1553 524L1555 517L1558 510L1561 502L1564 495L1567 488L1569 480M1581 529L1586 526M1591 518L1586 526M1617 663L1617 656L1617 648M1596 655L1605 650L1616 647M1617 648L1616 647M1633 654L1623 647M1617 648L1623 647M1591 644L1591 644M1591 644L1601 641L1610 636M1616 647L1610 636M1632 618L1630 625L1625 630M1633 640L1625 630M1623 647L1633 640M1610 636L1610 633M1610 633L1617 631L1625 630M1581 529L1586 535L1586 543L1593 548L1595 555L1599 562M1562 552L1568 558L1575 561L1582 565L1589 569L1596 574M1596 574L1599 562M1586 526L1592 530L1597 536L1604 539L1609 544M1599 562L1605 554L1609 544M1591 518L1596 524L1602 530L1608 535L1615 540M1609 544L1615 540M1606 490L1613 488L1621 486L1629 485L1636 484M1637 509L1632 516L1629 524L1623 530L1619 537M1619 537L1615 540M1610 633L1608 628M1632 618L1621 616M1621 616L1613 620L1608 628M1588 588L1596 577M1588 588L1592 596L1593 604L1596 611M1596 577L1601 582L1609 586L1614 591L1619 597M1596 611L1603 608L1610 610L1617 608M1619 597L1617 608M1579 592L1588 588M1596 574L1596 575M1596 575L1596 577M1335 343L1335 351L1331 358L1331 366M1335 343L1341 336L1348 330L1356 325M1331 366L1341 364L1350 364M1350 364L1357 358L1364 351L1369 344M1356 325L1360 332L1367 336L1369 344M1331 326L1332 335L1335 343M1303 382L1311 379L1318 375L1325 372L1331 366M1353 314L1356 325M1351 417L1357 413L1362 408L1366 402L1373 398M1373 398L1372 388L1367 379M1367 379L1362 373L1357 368L1350 364M1413 340L1406 342L1398 342L1391 341L1384 344L1377 345L1369 344M1373 398L1381 398L1388 402L1396 403L1404 400L1412 404L1420 403M1382 449L1390 455L1398 461M1629 351L1627 358L1626 365L1623 372L1620 378L1619 386L1617 393L1615 400L1613 407L1609 413M1576 405L1584 408L1593 408L1601 411L1609 413M1569 480L1563 476L1558 470L1552 465L1547 459M1517 502L1516 489M1516 489L1521 484L1527 480L1532 475L1535 468L1543 465L1547 459M1576 405L1568 409L1563 415L1559 423L1550 425L1545 431L1540 437M1620 431L1615 422L1609 413M1620 431L1614 434L1607 437L1600 438L1594 442L1588 445L1580 444L1574 448L1567 451L1561 454L1553 454L1547 458M1540 437L1542 444L1545 451L1547 458M1540 437L1533 433L1526 428L1518 425L1512 419M1806 313L1804 320M1804 320L1795 321L1787 319L1778 320L1770 319L1762 321M1629 351L1637 352L1644 354L1652 353L1659 355M1659 355L1662 362L1664 370L1664 378L1665 386L1668 393M1620 431L1627 435L1633 441L1638 447M1668 393L1664 400L1661 407L1658 414L1654 420L1651 428L1645 433L1641 440L1638 447M1643 476L1645 464M1547 459L1547 458M1645 464L1643 455L1638 447M1862 294L1863 302L1859 310L1859 318L1859 326L1858 334L1856 342L1856 350M1804 320L1809 325L1813 331L1818 337L1823 343L1830 346L1834 353M1834 353L1841 353L1848 350L1856 350M1686 340L1678 343L1672 346L1666 351L1659 355M1686 340L1685 332L1682 323L1682 314M1686 340L1694 341L1702 343L1710 344M1710 344L1717 342L1724 338L1730 335L1736 331L1742 325L1748 320L1755 318M1234 883L1231 875L1226 869L1223 861L1221 854M1234 883L1241 877L1251 875L1258 868M1257 867L1258 868M1257 867L1251 863L1244 860L1237 857L1229 856L1222 851M1222 851L1221 854M1305 570L1306 577L1311 583M1301 600L1305 600M1311 583L1306 591L1305 600M1332 622L1328 622M1332 622L1336 616M1328 622L1323 617L1317 612L1312 606L1307 601M1336 616L1337 608L1337 600L1336 593L1337 585M1307 601L1312 595L1320 592L1325 586M1337 585L1325 586M1310 644L1316 650L1317 659L1322 665M1310 644L1314 635L1320 627M1338 631L1332 622M1326 664L1323 666M1323 666L1322 665M1320 627L1328 622M1346 613L1336 616M1356 545L1353 552L1348 558L1346 565L1342 571L1338 577L1337 585M1311 583L1318 584L1325 586M1305 600L1307 601M1213 954L1216 947L1217 939L1221 933L1221 925M1234 956L1234 949L1234 941L1235 934M1221 925L1230 922M1235 934L1230 922M1236 904L1233 912L1233 919M1236 904L1244 904L1251 901L1258 900M1253 927L1247 924L1240 922L1233 919M1253 927L1260 915M1260 915L1258 907L1258 900M1240 954L1242 946L1246 939M1258 957L1258 949L1260 943L1262 936M1246 939L1255 930M1262 936L1255 930M1235 934L1246 939M1253 927L1255 930M1233 919L1230 922M1285 956L1282 949L1278 942L1277 934M1277 934L1270 934L1262 936M1169 979L1163 972L1160 964L1154 957M1160 1003L1154 997L1150 991L1146 984L1143 977L1139 970M1139 970L1143 962L1143 954M1154 957L1143 954M1178 961L1170 957L1163 952M1163 952L1154 957M1134 973L1132 982L1131 990L1131 998L1131 1007M1134 973L1126 975M1126 975L1124 982L1120 988L1115 993M1131 1007L1124 1003L1121 996L1115 993M1139 970L1134 973M1128 935L1132 942L1137 949L1143 954M1128 935L1121 938L1112 938L1105 942M1099 947L1103 954L1109 959L1115 964L1120 970L1126 975M1086 981L1093 984L1100 988L1108 990L1115 993M1168 948L1177 950M1168 948L1171 936M1173 935L1179 938L1184 944L1191 946M1173 935L1171 936M1191 946L1184 948L1177 950M1179 961L1177 950M1163 952L1168 948M1128 935L1134 924M1139 924L1134 924M1139 924L1146 929L1154 932L1163 932L1171 936M1197 947L1191 946M1197 947L1201 952M1319 906L1318 905M1319 906L1327 903L1334 900L1343 898L1350 894M1318 905L1316 892M1347 892L1350 894M1347 892L1340 889L1332 888L1324 886M1324 886L1316 892M1227 812L1230 822L1229 832M1227 812L1217 811L1207 814M1221 841L1212 837M1221 841L1229 832M1207 814L1208 822L1210 829L1212 837M1278 788L1273 790M1278 788L1286 795M1286 795L1282 804L1277 811M1273 790L1268 795M1268 795L1267 801M1267 801L1277 811M1453 1078L1458 1072L1462 1065L1470 1061L1475 1055L1479 1048M1441 984L1439 977L1436 971L1433 964L1428 958L1427 951M1452 922L1447 928L1443 934L1436 938L1433 946L1427 951M1173 913L1173 902M1173 913L1166 914L1159 917L1152 920L1146 922L1139 924M1134 917L1140 911L1149 907L1155 901M1134 917L1134 924M1155 901L1164 902L1173 902M1188 730L1195 728L1202 724L1207 718L1214 715L1221 712M1188 730L1189 720M1189 720L1196 716L1202 711L1207 706M1207 706L1219 703M1219 703L1221 712M1186 695L1188 703L1189 712L1189 720M1186 695L1194 697L1201 701L1207 706M1181 682L1186 695M1224 687L1222 695L1219 703M1226 732L1227 734M1226 732L1217 734L1208 735M1208 735L1211 742L1213 749M1213 749L1219 750M1227 734L1222 741L1219 750M1079 772L1085 776L1091 781L1097 783L1103 789L1109 792L1114 797L1121 801L1128 803M1137 750L1147 758M1147 758L1149 761M1149 761L1149 762M1149 762L1144 768L1142 776L1139 783L1135 789L1132 796L1128 803M1097 844L1098 843M1098 843L1103 837L1108 830L1114 825L1118 817L1124 811L1131 806M1128 803L1131 806M1098 843L1106 844L1114 844L1122 842L1130 843M1130 843L1133 835L1133 826L1137 819L1137 810M1131 806L1137 810M1229 808L1227 812M1210 793L1208 792M1207 814L1202 810M1208 792L1205 801L1202 810M1298 601L1296 608L1296 616L1294 624M1298 601L1291 603L1286 610L1279 614M1279 614L1274 622M1274 622L1287 626M1294 624L1287 626M1298 601L1298 601M1320 627L1311 625L1303 623L1294 624M1280 598L1280 606L1279 614M1310 644L1301 646L1293 651M1293 651L1290 643L1288 635L1287 626M1235 691L1237 700L1240 707L1245 715M1235 691L1243 692L1251 694L1259 695M1259 695L1259 709M1245 715L1252 712L1259 709M1241 721L1228 724M1241 721L1245 715M1228 724L1223 719L1221 712M1226 686L1235 691M1264 714L1275 714M1264 714L1262 722L1261 731M1285 735L1277 735L1269 732L1261 731M1285 735L1284 730M1275 714L1281 721L1284 730M1233 660L1240 661L1247 664L1255 666M1259 695L1262 693M1262 693L1262 685L1262 677M1255 666L1262 677M1227 631L1227 633M1227 631L1230 627M1227 633L1235 635L1242 639L1250 639L1257 644L1264 645M1230 627L1236 622L1245 620L1251 615M1251 615L1259 616L1266 620L1273 622M1264 645L1272 636M1273 622L1272 636M1215 630L1227 631M1232 658L1231 650L1228 642L1227 633M1222 573L1225 580L1223 589L1227 596L1229 604L1229 611L1228 620L1230 627M1258 590L1257 598L1254 607L1251 615M1274 622L1273 622M1540 692L1534 695M1519 684L1519 691M1534 695L1527 691L1519 691M1497 660L1497 667M1506 677L1502 678M1497 667L1502 678M1519 691L1517 693M1517 693L1511 698L1504 700M1502 678L1495 687M1504 700L1498 694L1495 687M1492 660L1486 665L1478 666L1472 670M1469 662L1468 667M1472 670L1468 667M1497 667L1490 671L1482 672L1475 676M1472 670L1475 676M1427 1006L1420 1003L1415 998L1410 993L1404 989L1396 987L1392 981L1385 979L1379 975L1374 969M1427 1006L1422 1013L1414 1016L1411 1025L1405 1031L1397 1034L1392 1040M1374 969L1375 977L1375 984L1371 992L1371 999L1370 1007L1373 1015L1370 1022M1392 1040L1388 1041M1431 1005L1427 1006M1373 966L1379 963L1386 959L1394 961L1400 958L1407 956L1414 953L1420 950M1373 966L1374 969M1427 951L1420 950M1433 1073L1429 1067L1422 1063L1416 1058L1411 1053L1404 1050L1398 1045L1392 1040M1378 921L1372 916L1370 908L1364 903M1378 921L1378 929L1376 936L1374 943L1375 951L1376 958L1373 965M1373 965L1365 964L1357 967L1349 964L1341 965M1341 965L1341 957L1341 950L1343 942L1341 934L1342 927L1341 919M1341 919L1347 912L1355 907L1363 903M1363 903L1364 903M1373 966L1373 965M1402 918L1405 924L1410 930L1413 937L1417 943L1420 950M1402 918L1394 919L1386 919L1378 921M1337 966L1341 965M1319 906L1323 916M1323 916L1332 916L1341 919M1350 894L1357 898L1363 903M1306 690L1309 693M1306 690L1312 684L1319 678M1309 693L1317 692L1325 693M1319 678L1323 685L1325 693M1323 666L1323 671M1322 665L1314 667L1305 669L1297 669M1299 688L1299 678L1297 669M1299 688L1306 690M1323 671L1319 678M1289 738L1286 737M1289 738L1296 734L1303 730L1308 724M1285 736L1286 737M1285 736L1291 729L1300 724L1305 716M1308 724L1305 716M1305 715L1305 715M1305 715L1298 716L1290 717M1285 735L1285 736M1290 717L1286 723L1284 730M1305 715L1305 716M1323 671L1326 678L1332 683M1325 693L1329 694M1329 694L1332 683M1350 668L1347 676L1341 681M1341 681L1332 683M1433 600L1424 604M1433 600L1442 607M1424 604L1430 610L1435 616M1442 607L1441 617M1441 617L1435 616M1439 579L1433 574M1439 579L1439 586L1434 592L1433 600M1412 604L1424 604M1439 579L1448 580L1456 583M1458 596L1450 601L1442 607M1422 622L1435 616M1444 621L1441 617M1428 633L1431 633M1405 647L1397 647L1390 644L1382 646M1405 647L1402 654L1396 659L1393 666M1382 646L1386 655L1389 664M1393 666L1389 664M1405 647L1405 647M1381 646L1382 646M1411 651L1407 660L1406 669M1406 669L1400 671M1400 671L1393 666M1591 630L1598 620M1591 630L1578 630M1580 621L1578 630M1580 621L1588 619L1597 617M1597 617L1598 620M1591 644L1591 630M1608 628L1598 620M1570 638L1578 630M1568 606L1575 613L1580 621M1596 611L1597 617M1621 616L1617 608M1634 564L1625 568L1616 572M1634 564L1642 565L1651 564L1660 567M1616 572L1621 579L1630 583L1635 590L1641 596M1660 567L1659 575M1659 575L1655 582L1652 590L1651 598M1651 598L1641 596M1596 575L1606 573L1616 572M1619 537L1625 543L1625 552L1632 556L1634 564M1665 559L1660 567M1619 597L1626 595L1634 597L1641 596M1473 473L1477 467L1480 460L1482 453L1486 446L1487 438L1490 431L1495 425M1473 473L1465 477M1461 476L1465 477M1461 476L1456 469L1449 464L1442 459M1516 489L1509 486L1502 483L1494 482L1487 481L1479 478L1473 473M1405 503L1416 504L1426 503M1426 503L1431 498L1437 493L1444 490L1449 485L1456 482L1461 476M1470 513L1470 512M1470 513L1469 520L1463 526L1461 534L1459 541M1470 512L1462 515L1454 516L1446 516L1438 519M1459 541L1446 543M1446 543L1443 543M1443 543L1440 533M1440 533L1437 526L1438 519M1491 522L1483 520L1477 516L1470 513M1465 477L1466 484L1468 491L1466 498L1468 505L1470 512M1465 545L1459 541M1426 503L1430 512L1438 519M1461 577L1459 570L1457 563L1454 556L1450 550L1446 543M1430 556L1438 551L1443 543M1398 525L1405 525L1412 527L1419 528L1426 533L1433 533L1440 533M1871 352L1875 358L1876 366L1877 373L1879 381L1882 388L1888 394L1890 401L1893 408L1891 416L1897 422L1898 430M1871 352L1877 348L1885 348L1891 343L1898 341L1903 335L1911 333M1883 294L1888 300L1890 308L1895 315L1900 321L1907 326L1911 333M1856 350L1864 349L1871 352M1197 947L1196 939L1196 932L1194 924M1173 935L1175 927L1180 920M1194 924L1187 922L1180 920M1173 913L1179 919M1180 920L1179 919M1323 916L1317 923M1337 966L1330 962L1327 956M1327 956L1326 947L1323 939L1321 931L1317 923M1285 956L1292 953L1298 949L1302 944M1327 956L1319 952L1312 946L1302 944M1263 878L1258 868M1263 878L1271 879L1278 879L1285 881L1293 883M1263 856L1272 858L1280 859L1289 858M1263 856L1257 867M1289 858L1292 866L1292 874L1293 883M1263 878L1264 887L1261 896M1288 911L1281 909L1276 902L1268 899L1261 896M1288 911L1292 902L1292 893L1296 884M1293 883L1296 884M1318 905L1311 908L1304 909L1296 909L1289 911M1288 911L1289 911M1316 892L1310 888L1303 887L1296 884M1296 884L1296 884M1296 841L1294 847L1293 854M1296 841L1304 838M1304 838L1309 846L1314 854M1293 854L1299 860L1307 863M1314 854L1307 863M1293 854L1289 858M1296 884L1302 876L1307 868M1307 863L1307 868M1290 766L1292 768M1290 766L1290 758L1294 750L1295 742M1292 768L1297 761L1302 754M1302 754L1296 742M1295 742L1296 742M1297 774L1292 768M1297 774L1298 775M1298 775L1307 772M1307 772L1314 761M1314 761L1302 754M1250 789L1259 792L1268 795M1250 789L1248 797L1249 805M1267 801L1262 806M1262 806L1249 805M1250 789L1243 780M1231 806L1238 808L1246 808M1243 780L1238 781M1237 781L1238 781M1249 805L1246 808M1379 757L1379 759M1379 757L1372 753L1365 750L1359 745L1352 743M1354 770L1363 767L1370 762L1379 759M1354 770L1351 763L1345 758M1379 759L1379 759M1345 758L1347 750L1352 743M1353 773L1354 770M1353 773L1347 782M1347 782L1338 782M1345 758L1334 759M1338 782L1336 774L1336 766L1334 759M1307 772L1314 778M1314 778L1326 778M1314 761L1324 756M1324 756L1327 757M1326 778L1327 767L1327 757M1234 883L1230 886M1221 854L1215 862L1208 868M1208 868L1210 871M1210 871L1218 875L1223 882L1230 886M1236 904L1229 895M1258 900L1261 896M1230 886L1229 895M1193 867L1185 864M1193 867L1194 859L1197 852L1199 844L1199 837M1185 864L1180 855M1180 855L1183 848L1183 840M1183 840L1191 833M1191 833L1199 837M1221 841L1222 851M1212 837L1199 837M1208 868L1195 868M1195 868L1193 867M1159 835L1160 843L1156 849M1159 835L1167 836L1175 838L1183 840M1156 849L1164 853L1172 853L1180 855M1153 813L1162 811L1170 806M1153 813L1153 821L1157 828L1159 835M1170 806L1177 811L1185 815M1185 815L1190 824L1191 833M1202 810L1194 813L1185 815M1156 849L1154 852M1185 864L1177 868L1169 873M1154 852L1160 859L1165 865L1169 873M1130 843L1135 851L1138 860M1153 813L1146 811M1137 810L1146 811M1154 852L1147 858L1138 860M1149 762L1150 763M1146 811L1147 804L1152 797L1152 789L1152 782L1156 775M1150 763L1156 775M1220 767L1226 771L1231 777L1238 781M1220 767L1212 766L1206 772L1198 772M1208 792L1203 788L1200 780L1195 775M1195 775L1198 772M1213 749L1205 755L1197 759M1220 767L1222 762M1219 750L1222 762M1198 772L1197 759M1168 759L1171 751L1176 744M1168 759L1179 766M1179 766L1180 759L1176 752L1176 744M1208 735L1199 734L1189 733M1197 759L1195 750L1193 741L1189 733M1226 732L1228 724M1188 730L1187 731M1189 733L1187 731M1169 725L1181 732M1187 731L1181 732M1147 758L1152 751L1160 748L1167 744L1173 738L1179 733M1149 761L1159 761L1168 759M1176 744L1179 733M1181 732L1179 733M1288 708L1277 710M1288 708L1291 702M1277 710L1276 702L1274 694M1291 702L1292 693M1292 693L1282 691M1282 691L1274 694M1275 714L1277 710M1290 717L1288 708M1305 715L1299 708L1291 702M1264 714L1259 709M1262 693L1274 694M1299 688L1292 693M1309 693L1311 701L1312 710M1312 710L1305 715M1297 669L1290 661M1277 675L1283 668L1290 661M1277 675L1278 684L1282 691M1277 675L1269 675L1262 677M1289 657L1283 653L1278 647M1289 657L1289 659M1289 659L1281 659L1273 658L1265 659M1278 647L1265 648M1265 648L1265 659M1293 651L1289 657M1272 636L1278 647M1290 661L1289 659M1255 666L1265 659M1264 645L1265 648M1517 693L1522 700L1527 708M1504 705L1504 700M1504 705L1506 712L1512 717L1513 724M1513 724L1518 731M1518 731L1519 731M1519 731L1521 723L1524 716L1527 708M1534 695L1529 706M1527 708L1529 706M1481 698L1487 686M1481 698L1474 693L1466 692M1487 686L1480 682L1476 676M1466 692L1472 685L1476 676M1495 687L1487 686M1475 676L1476 676M1459 669L1450 673M1459 669L1455 662L1452 655L1450 647M1450 673L1442 670L1437 663M1437 663L1439 655L1442 648M1450 647L1443 646M1442 648L1443 646M1456 646L1450 647M1468 667L1459 669M1418 652L1425 657L1430 664M1424 646L1433 647L1442 648M1430 664L1437 663M1443 645L1443 646M1452 687L1448 677M1452 687L1450 695L1444 700M1448 677L1441 681L1435 686M1435 686L1433 697M1444 700L1433 697M1463 694L1466 692M1463 694L1452 687M1450 673L1448 677M1425 671L1430 682M1425 671L1413 675M1430 682L1424 687L1416 687M1413 675L1413 683M1413 683L1416 687M1430 664L1425 671M1435 686L1430 682M1406 669L1413 675M1433 697L1433 697M1433 697L1425 692L1417 690M1417 690L1416 687M1501 748L1508 754L1515 760L1521 767M1501 748L1497 756L1493 763M1521 767L1520 771M1520 771L1514 778L1506 782M1493 763L1498 769L1501 776L1506 782M1296 742L1305 741L1314 738M1324 756L1323 743M1323 743L1314 738M1289 738L1295 742M1308 724L1314 731M1314 738L1314 731M1329 694L1330 695M1341 681L1346 692M1346 692L1338 693L1330 695M1312 710L1319 711M1314 731L1322 720M1319 711L1322 720M1330 695L1331 704M1319 711L1331 704M1332 736L1323 743M1332 736L1329 728L1325 722M1325 722L1322 720M1371 652L1372 662L1375 672M1389 664L1382 671M1375 672L1382 671M1351 668L1354 675L1361 678L1365 684M1375 672L1372 679L1365 684M1400 671L1396 678L1393 685M1382 671L1386 679L1393 685M1413 683L1406 686L1399 690L1392 692M1393 685L1392 692M1417 690L1413 699M1413 699L1406 696L1398 694L1391 693M1392 692L1391 693M1668 393L1673 397L1681 399L1688 401L1694 404L1700 409M1645 464L1652 461L1659 459L1667 456L1672 449L1681 450L1687 445M1700 409L1698 416L1695 423L1694 431L1691 438L1687 445M1710 344L1711 352L1715 358L1717 365L1721 372L1722 379L1724 387L1727 393M1727 393L1724 400M1700 409L1707 405L1716 403L1724 400M1732 506L1736 498M1687 445L1695 445L1702 447L1709 451L1716 450L1723 453M1736 498L1736 490L1733 483L1731 475L1728 468L1727 460L1723 453M1724 400L1726 409L1732 416L1731 426L1736 433M1723 453L1728 447L1732 441L1736 433M1762 321L1763 328L1765 336L1763 343L1765 351L1766 358L1766 366L1768 373L1769 380L1768 388M1727 393L1735 391L1743 391L1751 390L1759 390L1767 389M1768 388L1767 389M1834 353L1832 361L1827 368L1824 375L1822 383L1819 390M1768 388L1776 390L1783 389L1790 389L1797 387L1804 388L1811 389L1819 390M1736 433L1744 433L1752 433L1760 433L1768 436M1767 389L1769 397L1768 404L1769 412L1767 420L1766 428L1768 436M1819 390L1821 402M1213 899L1208 895M1213 899L1210 908L1209 917M1208 895L1194 895M1209 917L1201 919M1201 919L1197 911L1194 902M1194 902L1193 896M1193 896L1194 895M1210 871L1210 879L1207 887L1208 895M1229 895L1221 898L1213 899M1221 925L1214 923L1209 917M1195 868L1191 881M1191 881L1193 888L1194 895M1194 924L1201 919M1179 919L1183 912L1189 908L1194 902M1173 902L1174 899M1174 899L1184 898L1193 896M1191 881L1184 883L1177 887L1170 887M1174 899L1170 887M1304 926L1304 934L1302 943M1304 926L1297 920L1288 917M1302 943L1295 939L1288 933L1281 929M1288 917L1283 922M1283 922L1281 929M1302 944L1302 943M1317 923L1304 926M1289 911L1288 917M1277 934L1281 929M1260 915L1267 919L1276 918L1283 922M1324 864L1318 870M1324 864L1332 873M1318 870L1320 877L1325 883M1332 873L1325 883M1314 854L1326 854M1326 854L1324 864M1307 868L1318 870M1324 886L1325 883M1341 869L1344 877L1345 885L1347 892M1341 869L1332 873M1262 821L1251 824M1262 821L1272 825M1272 825L1271 832L1267 839L1268 847M1246 831L1251 824M1246 831L1249 837L1255 841L1257 849L1263 854M1263 854L1268 847M1262 806L1261 813L1262 821M1246 808L1250 816L1251 824M1277 811L1281 820M1281 820L1272 825M1292 839L1285 843L1277 846L1268 847M1292 839L1289 832L1284 827L1281 820M1281 820L1281 820M1229 832L1237 832L1246 831M1263 856L1263 854M1296 841L1292 839M1443 837L1434 836L1427 831M1443 837L1447 847M1447 847L1444 854L1438 859L1434 866L1428 871M1427 831L1422 836L1416 840M1416 840L1414 848L1415 857M1415 857L1421 864L1428 871M1447 847L1455 852L1461 859M1461 859L1458 867L1451 872L1445 878L1443 886L1438 892M1428 871L1433 877L1435 885L1438 892M1413 907L1407 912L1402 918M1413 907L1419 904L1425 899L1432 898M1452 922L1448 915L1447 907L1442 901M1442 901L1438 897M1432 898L1438 897M1351 807L1346 810M1351 807L1359 810L1367 812L1376 814M1379 818L1376 814M1379 818L1377 825M1346 810L1348 817L1348 825L1351 832M1377 825L1368 826L1360 831L1351 832M1411 839L1401 838L1392 842M1411 839L1405 834L1401 828L1396 823L1391 817M1379 818L1391 817M1377 825L1378 838M1392 842L1378 838M1351 832L1350 834M1350 834L1356 841L1358 850M1360 851L1367 849L1372 843L1378 839M1360 851L1358 850M1378 838L1378 839M1329 852L1331 848M1329 852L1335 858L1341 866M1331 848L1340 851L1349 852M1341 866L1345 859L1349 852M1341 869L1342 869M1342 869L1341 866M1326 854L1329 852M1386 795L1382 803L1376 811M1386 795L1384 787L1381 779M1376 811L1374 803L1370 796L1370 787M1381 779L1370 787M1370 787L1370 787M1376 814L1376 811M1410 800L1404 805L1396 810L1391 817M1410 800L1402 798L1394 798L1386 795M1351 807L1353 797M1353 797L1362 793L1370 787M1353 773L1360 776L1366 781L1370 787M1384 775L1382 767L1379 759M1384 775L1381 779M1353 797L1352 788L1347 782M1338 734L1351 736M1338 734L1336 726L1335 718M1335 718L1336 717M1336 717L1344 717L1351 717L1358 720M1351 736L1357 727M1357 727L1358 720M1352 743L1351 736M1334 759L1327 757M1332 736L1338 734M1325 722L1335 718M1331 704L1333 706M1333 706L1336 717M1367 703L1359 702L1350 704L1342 706L1333 706M1367 703L1361 711L1358 720M1338 782L1335 783M1326 778L1330 781M1330 781L1335 783M1442 901L1448 896L1457 894L1463 889L1471 886M1461 859L1467 859M1438 892L1438 897M1467 859L1470 868L1472 876L1471 886M1166 883L1156 892M1166 883L1165 881M1165 881L1157 879L1149 874L1141 873L1132 872M1156 892L1147 892L1140 888L1131 888L1124 886M1132 872L1126 875L1121 881M1121 881L1124 886M1155 901L1156 892M1170 887L1166 883M1169 873L1165 881M1138 860L1132 872M1134 917L1133 909L1127 902L1124 894L1124 886M1106 878L1114 878L1121 881M1241 721L1249 726L1255 732M1227 734L1231 739L1236 744M1255 732L1250 738L1242 739L1236 744M1261 731L1257 733M1255 732L1257 733M1222 762L1230 756L1238 751M1236 744L1238 751M1286 737L1282 744L1278 750L1273 757M1257 733L1258 740L1258 748M1273 757L1265 753L1258 748M1290 766L1282 763L1274 761M1273 757L1274 761M1238 751L1242 753M1242 753L1255 750M1258 748L1255 750M1278 787L1276 779L1274 771L1273 763M1278 787L1283 782L1290 778L1297 774M1274 761L1273 763M1243 779L1244 772L1241 765L1243 758M1243 779L1256 774M1243 758L1255 762M1255 762L1259 771M1256 774L1259 771M1243 780L1243 779M1242 753L1243 758M1273 790L1267 786L1262 779L1256 774M1255 750L1255 762M1273 763L1265 766L1259 771M1278 787L1278 788M1174 798L1178 792L1185 788L1189 783L1193 776M1174 798L1171 791L1166 786L1162 780M1162 780L1171 772M1171 772L1178 770L1185 772M1185 772L1193 776M1170 806L1174 798M1195 775L1193 776M1156 775L1162 780M1150 763L1157 766L1163 771L1171 772M1179 766L1185 772M1463 694L1462 705M1481 698L1481 699M1462 705L1472 704L1481 699M1504 705L1494 707L1485 709M1485 709L1481 699M1491 739L1489 732L1484 726L1482 718M1491 739L1482 740L1472 739M1472 739L1470 738M1470 738L1467 729L1467 720M1467 720L1474 718L1481 717M1482 718L1481 717M1502 744L1508 740L1514 737L1518 731M1502 744L1491 739M1513 724L1505 725L1498 721L1490 719L1482 718M1462 705L1459 715M1459 715L1467 720M1485 709L1481 717M1541 692L1544 698L1547 704M1529 706L1537 707L1545 707M1545 707L1547 704M1565 697L1557 699L1551 704M1551 704L1547 704M1525 820L1529 812M1529 812L1541 813M1544 772L1547 786M1544 772L1532 778M1532 778L1528 784L1529 792L1524 799M1547 786L1545 790M1545 790L1538 793L1533 797L1527 802M1524 799L1527 802M1571 787L1563 785L1555 786L1547 786M1556 801L1549 797L1545 790M1529 812L1527 802M1443 837L1448 831L1456 828M1467 859L1477 855M1477 855L1481 849L1481 841M1456 828L1461 834L1470 833L1476 836L1481 841M1497 863L1488 860L1479 857M1477 855L1479 857M1481 841L1482 841M1503 844L1496 841L1489 843L1482 841M1520 771L1532 778M1506 782L1506 785M1524 799L1521 797M1521 797L1514 790L1506 785M1458 821L1456 828M1458 821L1465 816L1472 813M1482 841L1482 840M1482 840L1479 833L1480 825L1477 817M1472 813L1477 817M1382 747L1379 757M1382 747L1380 742M1357 727L1364 732L1371 738L1380 741M1380 742L1380 741M1346 692L1354 694L1360 700L1368 703M1365 684L1365 693L1369 702M1369 702L1368 703M1367 703L1368 703M1368 703L1368 703M1380 741L1378 732L1378 723L1375 714M1368 703L1375 714M1380 742L1385 734L1388 725M1375 714L1382 719L1388 725M1768 436L1774 442L1782 444L1787 452L1794 456M1736 498L1743 496L1750 493L1756 489L1761 483L1770 483L1776 479L1782 474L1788 471M1424 776L1415 773L1406 772M1424 776L1428 786M1428 786L1421 794L1412 799M1412 799L1407 793L1403 786L1400 779M1400 779L1406 772M1384 775L1392 776L1400 779M1410 800L1411 799M1411 799L1412 799M1406 771L1406 772M1406 771L1400 766L1397 758M1397 758L1388 760L1379 759M1392 842L1390 850L1394 857L1392 865M1378 839L1380 847L1382 855L1384 863M1384 863L1392 865M1413 907L1407 903L1400 899L1394 894L1389 888M1364 903L1366 899M1389 888L1382 893L1373 893L1366 899M1432 898L1425 894L1419 889L1412 884L1404 881L1397 877M1389 888L1397 877M1415 857L1405 861L1397 868M1397 877L1397 868M1416 840L1411 839M1397 868L1392 865M1304 838L1306 836M1281 820L1287 817L1294 814L1300 811M1306 836L1305 827L1301 819L1300 811M1286 795L1294 797L1301 802M1300 811L1301 809M1301 809L1301 802M1298 775L1298 783L1300 792L1302 801M1301 802L1302 801M1479 857L1481 866M1501 748L1502 744M1493 763L1488 764M1472 739L1472 747L1476 755L1475 763M1488 764L1475 763M1421 707L1428 706M1421 707L1422 715L1420 722M1420 722L1423 714L1429 708M1428 706L1429 708M1433 697L1428 706M1415 706L1413 699M1415 706L1421 707M1569 702L1566 714M1585 715L1579 721L1573 728M1566 714L1568 722L1573 728M1551 704L1557 714M1566 714L1557 714M1594 728L1586 729L1578 734L1571 737M1573 728L1571 737M1571 787L1572 782M1572 782L1580 774M1593 777L1580 774M1608 787L1605 778L1603 769M1593 777L1603 769M1631 782L1625 776L1618 773L1611 771L1604 767M1612 743L1602 751M1602 751L1602 759L1604 767M1604 767L1603 769M1521 797L1515 801L1508 804L1502 809M1502 809L1508 813L1511 820L1518 823M1482 840L1487 835L1492 829L1497 823M1497 823L1506 824L1514 826M1493 796L1495 803L1501 808M1493 796L1492 796M1492 796L1488 805L1486 814M1501 808L1495 819M1486 814L1495 819M1506 785L1500 792L1493 796M1502 809L1501 808M1497 823L1495 819M1477 817L1486 814M1389 695L1379 698L1369 702M1389 695L1397 702L1402 711M1369 702L1377 706L1383 712L1391 716L1399 720M1402 711L1399 720M1391 693L1389 695M1369 702L1369 702M1415 706L1411 710M1411 710L1402 711M1399 726L1399 720M1399 726L1388 725M1445 806L1441 800M1445 806L1439 813L1433 820L1427 826M1441 800L1434 804L1426 806L1419 811M1427 826L1422 819L1419 811M1434 786L1436 794L1441 800M1434 786L1442 783L1448 777L1455 773M1450 806L1445 806M1450 806L1450 805M1450 805L1453 797L1457 789L1460 781M1460 781L1455 773M1427 831L1427 826M1458 821L1455 813L1450 806M1411 799L1419 811M1428 786L1434 786M1367 883L1370 875L1375 869L1382 864M1367 883L1363 875L1359 867M1382 864L1376 860L1368 859L1361 855M1359 867L1361 855M1384 863L1382 864M1366 899L1367 891L1367 883M1342 869L1350 870L1359 867M1360 851L1361 855M1358 850L1349 852M1333 796L1326 795L1320 791M1333 796L1336 810M1336 810L1334 810M1334 810L1327 805L1319 802L1313 795M1320 791L1314 793M1314 793L1313 795M1330 781L1320 791M1335 783L1333 796M1346 810L1336 810M1314 778L1313 786L1314 793M1302 801L1313 795M1329 816L1322 817M1329 816L1329 824L1329 831L1332 839M1322 817L1317 826L1312 835M1312 835L1321 839L1331 840M1331 840L1332 839M1301 809L1308 811L1315 814L1322 817M1334 810L1329 816M1350 834L1341 838L1332 839M1306 836L1312 835M1331 848L1331 840M1460 781L1462 783M1488 764L1488 772L1483 778L1482 785M1475 763L1469 766L1462 769L1455 771M1455 771L1455 773M1462 783L1472 783L1482 785M1492 796L1490 795M1490 795L1482 785M1414 727L1400 727M1414 727L1418 729M1418 729L1415 737L1411 745M1400 727L1397 740M1411 745L1401 742M1397 740L1401 742M1411 710L1412 718L1414 727M1399 726L1400 727M1420 722L1419 729M1419 729L1418 729M1382 747L1389 743L1397 740M1401 756L1399 749L1401 742M1401 756L1397 758M1413 749L1421 748L1429 748L1437 750M1413 749L1410 756M1410 756L1412 762M1412 762L1423 765M1423 765L1431 758L1437 750M1401 756L1410 756M1411 745L1413 749M1406 771L1412 762M1424 776L1423 765M1429 708L1437 718M1419 729L1428 731M1428 731L1432 724L1437 718M1444 700L1449 707L1454 715M1437 718L1445 715L1454 715M1459 715L1456 715M1454 715L1456 715M1571 737L1570 738M1602 751L1590 751M1570 738L1576 744L1583 748L1590 751M1580 774L1581 768M1590 751L1586 760L1581 768M1546 769L1553 765M1546 769L1539 762L1531 757M1553 765L1559 753M1531 757L1528 749L1528 741L1526 734M1559 753L1561 742M1561 742L1553 736L1544 733M1544 733L1539 732M1526 734L1539 732M1572 782L1566 776L1560 770L1553 765M1544 772L1546 769M1521 767L1527 763L1531 757M1581 768L1574 763L1566 758L1559 753M1519 731L1526 734M1570 738L1561 742M1557 714L1552 720L1549 727L1544 733M1545 707L1543 715L1542 724L1539 732M1468 796L1477 798L1486 797M1468 796L1468 804M1486 797L1478 804L1472 812M1468 804L1472 812M1462 783L1466 789L1468 796M1490 795L1486 797M1450 805L1459 804L1468 804M1472 813L1472 812M1437 750L1437 745M1437 750L1442 757L1450 761M1437 745L1444 742L1449 735M1449 735L1456 740L1464 741M1450 761L1454 754L1461 749L1464 741M1437 750L1437 750M1428 731L1433 738L1437 745M1455 771L1450 761M1456 715L1454 722L1450 728L1449 735M1470 738L1464 741" stroke="#000" stroke-width="1.4" stroke-dasharray="2 3" opacity="0.8"/><path d="M49 340L58 344M49 340L42 341L34 344L26 342L19 344L11 345L4 348L-4 348M58 344L51 347L45 350L40 355L33 359L27 363L22 368L14 368L9 374L2 376L-4 381M-32 259L-27 264L-21 268L-18 276L-13 280L-8 286L-1 289L4 294L9 299L13 305L19 309L24 315L29 319L34 325L38 331L44 336L49 340M78 177L84 181L87 187L91 193L99 196L104 201L106 208L112 212L118 216L122 222L127 227M127 227L120 230L113 232L105 233L99 237L91 239L85 242L77 242L69 243L63 249L55 248L48 251L41 252L34 254L27 259M87 351L80 348L72 349L66 344L58 344M87 351L82 346L80 338L73 335L72 327L67 321L64 315L58 310L55 304L51 298L46 293L41 288L37 282L33 276L28 271L24 265L22 258M87 351L92 353M27 259L33 263L40 267L47 270L52 276L59 278L66 283L72 287L79 290L86 293L91 299L98 301L104 307M104 307L104 315L98 322L97 329L98 338L94 345L92 353M-17 409L-10 412L-2 413L5 418L12 420L20 422L26 428L33 430L41 432M92 353L93 356M41 432L46 427L49 421L53 415L55 408L59 402L64 396L71 392L72 384L76 379L81 373L83 366L89 361L93 356M228 564L223 558L217 553L215 544L209 539L206 532L202 525L196 519M228 564L222 568L215 571L208 573L201 576L194 578L189 584L182 587L176 591L169 594L162 595M162 595L154 595M196 519L188 520L181 522L173 521L165 522L158 522L150 520L142 524L135 521L127 524M127 524L117 533M117 533L120 540L125 546L126 553L130 559L136 564L138 571L143 576L145 584L152 588L154 595M127 227L135 232M185 186L180 192L174 197L170 203L162 206L156 211L153 218L146 222L141 228L135 232M104 307L107 300L111 294L115 288L119 282L119 274L124 269L128 263L129 255L134 250L137 243M135 232L137 243M189 336L191 328L191 320L189 312L187 304L191 296L188 288L189 280M189 336L184 340L179 345L172 348L167 354L162 359L156 363L150 368L146 374L140 379M140 379L137 379M93 356L99 360L107 361L112 365L118 369L124 373L132 374L137 379M137 243L142 248L148 252L155 254L161 258L167 262L172 268L177 273L182 277L189 280M293 365L295 358L300 352L303 345L306 338L308 331L312 324L316 318M293 365L286 363L278 362L272 357L265 358L258 357L251 353L244 351L238 347L230 349L224 343L217 344L210 341L203 340L196 340L189 336M316 318L309 316L305 310L297 308L290 306L286 299L279 297L272 295L267 289L259 289L253 285L248 280L241 277M241 277L234 277L226 277L219 278L211 280L204 280L196 279L189 280M280 507L281 500L280 493L281 486L280 478L277 471L277 464L279 457L278 450L276 443L278 435L276 428L274 421L276 414L276 407L274 400M280 507L274 503L266 503L260 499L254 497L248 493L241 491L234 488L228 484L221 482L215 479M215 479L214 470L214 460M214 460L215 453L221 448L223 441L227 434L228 427L232 421M232 421L239 416L247 415L253 409L261 407L267 402L274 400M288 518L280 507M288 518L295 515L299 508L306 505L312 501L318 497L322 491L330 489L336 484L342 480L347 475L353 471L358 465L365 461M365 461L360 456L354 452L349 447L344 442L338 438L333 433L330 425L324 422L318 418L315 411L309 407L303 403L300 396L293 393L289 386M289 386L282 393L274 400M196 519L200 513L201 506L204 499L210 493L212 486L215 479M127 524L126 516L128 509L130 502L128 495L129 487L130 480L132 473L131 466L133 459M133 459L136 455M136 455L143 457L150 455L157 455L164 456L171 458L178 456L185 460L192 459L199 459L206 460L214 460M140 379L146 383L154 384L160 388L167 390L173 395L179 398L187 398L193 404L199 406L206 409L213 412L220 413L226 417L232 421M137 379L139 387L137 394L136 402L134 409L136 417L134 425L138 432L135 440L134 447L136 455M293 365L289 372L290 379L289 386M649 226L653 233L652 241L653 248L658 254L661 261L660 268L662 275L666 282L668 289L669 296L671 303L674 309L674 317M649 226L654 222L660 217L664 211L672 208L675 201L681 197L686 191L693 188L697 181L704 179L707 171L712 166L719 162M371 319L380 327M371 319L376 314L383 312L388 306L394 302L400 299L407 297L412 292L417 287L424 285L430 280L435 274L443 274L448 269L453 264L460 262L465 256L471 252M380 327L387 328L394 327L401 324L408 324L416 324L423 323L430 321L437 323L444 321L451 319L459 321L466 321L473 318L480 316L487 317M471 252L475 259L475 267L479 274L481 281L485 288L489 295M487 317L488 310L487 302L489 295M326 311L326 303L329 296L329 289L328 282L332 275L329 267L331 260M326 311L334 313L341 314L348 317L356 315L363 318L371 319M331 260L335 253L338 244L344 238L349 232L352 224M468 209L461 211L453 210L446 211L439 213L432 215L425 216L417 216L410 218L403 219L395 219L388 219L381 218L374 221L366 221L359 222L352 224M468 209L471 217L477 224M477 224L475 231L472 238L470 245L471 252M469 419L476 415L485 415L491 410M469 419L465 412L459 408L452 405L449 399L445 392L438 389L433 385L428 379L424 373L419 368L413 364L409 357L404 353L398 348L395 342L391 336L384 333L380 327M491 410L492 403L490 396L489 388L491 381L488 374L489 367L491 360L487 353L487 346L490 338L488 331L489 324L487 317M674 317L671 322M698 889L698 897L700 906L699 914L698 922L699 930M699 930L701 930M-10 710L-4 706L4 706L11 703L17 699L25 698L31 695L37 690L45 690L51 686L58 682L65 679L72 679L79 675L86 673L92 670M10 585L14 592L19 597L26 601L31 606L34 613L39 618L46 623L51 628L57 632L61 639L68 642L72 649L77 654L82 660L87 665L92 670M164 748L160 741L157 735L155 728L150 723L147 716L143 710L141 703L136 697M164 748L157 746L150 747L143 747L136 746L128 746L121 743L114 744L107 741L100 742L93 742L86 742L78 742L71 741L64 740L57 738L50 736L43 738L36 738L29 736M92 670L98 675L104 679L112 681L119 684L124 689L131 692L136 697M41 433L47 446M47 446L48 459M41 432L41 433M133 459L126 458L119 455L112 454L104 456L97 453L90 453L83 451L75 452L68 450L61 448L55 445L47 446M62 543L57 548L51 552L46 558L39 562L34 566L30 573M62 543L62 535L61 528L58 522L58 515L57 508L53 501L52 494L52 487L52 480L50 473L51 465L48 459M117 533L109 533L101 535L93 536L86 538L78 538L70 540L62 543M468 209L467 202L466 194L465 187L463 179L462 172L462 165M462 165L456 162L448 160L443 155L436 152L429 151L423 146L416 144L410 140L403 138L397 134L390 131L383 130L376 128L369 126L363 122L357 119M352 224L349 216L351 209L351 201L350 194L347 187L347 179L347 172L347 164L346 157L347 149L346 142M357 119L352 126L348 133L346 142M698 889L695 883L687 879L683 873L678 867L673 862L668 856L663 851M663 851L667 845L670 839L677 835L681 829L684 822L687 816L692 811L698 807L702 801L705 794L709 788L713 782L718 777L723 772M627 141L621 146L612 150L608 158L601 162M649 226L641 223L632 224L624 221L615 220M615 220L614 213L613 205L610 198L607 191L606 184L604 177L604 169L601 162M482 135L489 137L495 141L501 145L509 146L515 150L521 153L529 154L535 157L541 162L549 163L555 166L561 169M523 44L528 50L530 57L531 64L536 70L538 77L540 85L543 91L549 97L549 105L554 111L555 118L560 124L563 131L568 136L568 144L572 151L575 157M561 169L567 162L575 157M462 165L466 158L469 152L474 147L477 139L482 135M477 224L485 225L493 222L501 224L509 226L517 225L524 225L532 224M532 224L536 217L541 211L544 204L546 196L549 189L554 183L559 177L561 169M601 162L592 161L584 161L575 157M772 397L765 397L758 398L751 396L745 394L737 395L731 391L724 393L717 390L709 392L703 389L696 386L689 386L682 385L675 386L668 384L661 385L654 381L647 382L640 383L633 382L626 380M626 380L631 384L638 388L642 394L646 400L653 404L658 409L665 412L669 418L676 421L679 428L686 432L690 437L697 440L701 447L707 451L711 457L717 462L722 466L729 470M326 311L316 318M365 461L371 465L378 467L385 469L392 472L399 474L406 475M469 419L464 424L460 430L456 436M406 475L413 472L417 466L424 464L428 457L433 452L439 449L445 445L450 440L456 436M701 930L708 933L715 936L722 936L729 938L735 942L742 943L749 943L756 945L762 949M762 949L765 942L770 936L771 928L776 922L779 915L782 908L785 901L789 895L794 889L799 883L798 874L804 869M170 762L177 765L183 770L190 773L195 778L201 783L208 786L214 791L220 794L228 796L233 801L239 805L245 810L251 814L259 816L265 820M170 762L167 769L162 774L157 779L152 784L149 791L145 796L142 803L136 808L133 813L128 819L125 825L120 831L117 837L112 842L109 848L105 854L100 859M265 820L262 827L255 831L251 837L247 843L243 849L236 852L232 858L229 865L223 869L219 875L214 880L210 886L206 892L202 898L198 904L192 909L188 914L184 920L179 926L175 932L170 937L164 941L160 947M164 748L167 750M167 750L170 762M587 900L579 901L570 899L562 900L554 900L546 899M546 899L542 905L535 910L531 916L528 923L523 929L520 936L516 942L510 947L506 953M663 851L656 849L649 847L644 842L637 838L630 836L624 832L617 830L610 828M610 828L608 835L607 843L605 850L600 856L599 864L597 872L594 879L592 886L590 893L587 900M699 930L693 934L686 937L680 943L674 948L666 950L662 957L654 960M143 619L136 616L130 613L123 610L116 608L110 606L102 605L96 601L89 599L82 596L76 593L69 591L63 588L56 585L50 580L43 579L36 576L30 573M143 619L140 627L139 634L138 642M138 642L133 637L127 633L121 629L113 628L108 623L103 617L96 616L90 611L84 607L77 605L72 600L65 598L60 591L54 588L48 584L41 581L36 576L30 573M154 595L150 603L145 611L143 619M136 697L138 689L135 681L139 674L139 666L138 658L139 650L138 642M1077 565L1083 559L1089 554L1091 545L1099 542L1103 534M1076 568L1084 570L1092 572L1100 577L1109 577M1081 145L1087 149L1093 152L1098 158L1103 163L1108 168L1116 171L1121 176L1127 180L1132 184L1137 190L1142 195L1149 198M1208 167L1200 169L1195 174L1188 178L1181 179L1174 183L1168 187L1163 193L1156 196L1149 198M1097 491L1095 493M1151 389L1144 387L1137 388L1129 387L1122 388L1115 386L1108 388L1101 388L1094 387L1086 385L1079 384L1072 385L1065 383L1058 386L1051 383L1043 383M1103 534L1101 528L1101 520L1100 514L1099 507L1096 500L1095 493M610 828L608 821L607 814L605 807L604 800L600 794M723 772L715 773L709 771L702 768L694 770L687 768L680 768L673 767L666 766M600 794L606 790L614 790L620 787L626 783L633 780L640 778L647 776L653 772L660 769L666 766M582 238L575 242L567 242M582 238L586 244L592 249L597 254L600 261L605 266L607 273L614 278L617 285L620 291L626 296L631 301L635 307L638 314L643 319L649 324L652 330L657 336M567 242L567 249L568 256L565 263L564 270L566 277L568 284L565 291L567 298L566 306M566 306L570 312L573 319L577 325L581 331L586 337L587 345L592 351L596 356L600 363L602 370L607 376L609 383M657 336L653 343L647 348L642 354L638 360L633 366L630 373L625 379M625 379L613 383M609 383L613 383M532 224L539 229L547 230L553 235L560 237L567 242M615 220L608 224L602 228L595 230L589 235L582 238M671 322L663 328L657 336M489 295L496 298L503 295L510 298L517 298L524 298L531 299L538 301L545 304L552 302L559 304L566 306M491 410L499 409L506 412L513 410L520 409L527 412M527 412L534 410L541 408L547 403L554 402L561 400L568 398L575 394L582 392L589 390L596 388L603 386L609 383M626 380L625 379M729 470L723 475L717 478L710 480L704 484L697 487L693 494L687 497L679 498L674 503L668 506L662 510L656 514L649 516L643 520L638 525L632 528M632 528L633 521L628 514L627 507L629 499L628 492L626 485L626 477L624 470L622 463L624 456L621 449L619 442L618 434L617 427L617 420L618 412L615 405L616 398L613 391L613 383M666 766L666 758L662 752L662 745L663 737L660 731L658 724L656 717L658 709L654 703L654 696L651 689L650 682L649 675L647 668L647 661M696 685L690 681L682 679L674 677L667 673L660 670L655 664L647 661M527 412L531 418L531 425L532 433L534 440L536 447L541 453L543 460L544 468L546 474L548 482L549 489L550 496L554 503L556 510M632 528L629 535M629 535L622 534L617 528L610 526L603 526L596 522L590 520L583 519L576 516L570 513L562 513L556 510M703 590L696 590L689 591L682 593L675 591L668 593L661 597L654 595L647 597L640 597M629 535L629 542L634 548L635 555L635 562L634 570L635 577L639 583L638 590L640 597M456 436L461 442L464 449L465 456L469 462L474 468L476 475L479 482L484 488L487 495L493 499L497 506L497 514L503 519L506 526L508 533L513 539L516 545M556 510L551 516L545 520L540 526L534 531L527 535L520 539L516 545M392 504L391 511L388 518L387 525L387 533L384 539L384 547L381 554L378 560L380 568L375 575L375 582L375 589L373 597L370 603L370 611L368 618M392 504L397 498L398 490L403 484L406 477M406 477L409 484L414 489L417 495L419 502L424 508L429 513L432 519L434 526L437 533L441 538L445 544L448 551L450 558L454 563L459 569M368 618L374 613L381 611L388 608L394 605L400 600L408 598L413 593L419 588L427 588L433 584L440 580L446 576L452 572L459 569M283 573L282 565L283 557L284 549L287 542L287 534L287 526L288 518M283 573L290 571L296 567L302 562L308 558L314 555L320 550L325 545L332 543L338 540L343 534L350 531L355 526L362 523L367 518L375 517L380 511L387 509L392 504M406 475L406 477M919 1021L917 1014L919 1006M919 1021L916 1028L911 1033L906 1039L902 1045L900 1052L898 1059L893 1065M893 1065L886 1063L879 1061L873 1058L866 1055L860 1051L853 1050L847 1047L840 1044L833 1043L827 1038L820 1037L813 1035L807 1033L801 1028M914 984L907 983L899 981L892 979L885 975L878 974L870 974L863 969L855 970L848 968L841 965M801 1028L800 1021L800 1013L798 1005L798 998L799 990M799 990L806 986L812 981L819 977L825 972L830 967M830 967L841 965M762 949L767 955L774 959L780 965L782 973L788 978L793 985L799 990M844 908L844 916L840 922L840 930L839 938L837 945L836 953L831 960L830 967M228 564L234 569L241 573L249 573L254 578L261 580M162 595L168 599L172 605L177 610L184 614L190 617L195 622L200 627L206 632L210 638L217 641L220 648L227 651M227 651L231 645L233 638L237 632L240 626L241 618L245 612L248 606L250 599L254 593L259 587L261 580M283 573L283 574M261 580L268 577L276 578L283 574M167 750L171 743L180 740L183 732M227 651L225 663M225 663L222 670L220 677L217 684L211 689L209 696M183 732L187 726L190 719L197 715L200 708L203 701L209 696M546 899L541 894L536 888L531 883L525 879L518 876L515 869L510 864L505 859L498 855L494 850L487 846L482 841L479 834L473 830M473 830L474 828M600 794L592 790L585 785L578 780M474 828L481 826L487 822L494 821L501 818L507 815L514 812L520 807L526 804L533 802L540 799L546 796L553 794L558 788L566 787L573 785L578 780M318 846L324 849L331 850L338 852L344 857L352 856L358 859L364 863L371 864L378 866L385 869L391 871L398 874L405 876M318 846L315 853L312 859L309 866L306 872L303 879L300 885L298 892L296 898L293 905L291 912L289 919L287 925L282 931L281 938L279 945L273 950L273 958L269 964M405 876L409 888M409 888L408 896L406 902L404 909L402 916L399 923L397 930L394 937L395 944L394 951L391 958L390 965L388 972L384 978L381 985L380 992L378 999L378 1006M265 820L272 823L279 825L285 830L293 830L299 835L307 836L313 839M313 839L318 846M473 830L466 832L462 839L454 841L450 848L443 852L435 854L430 859L424 864L417 867L412 873L405 876M476 957L472 951L466 947L461 941L454 937L451 931L446 925L440 920L433 916L430 909L426 903L420 898L414 894L409 888M239 68L240 76L245 82L247 89L248 97L252 104L252 111L257 118L258 125L262 132L264 139L266 146L268 154M239 68L238 76L237 83L238 90L235 97L237 105L233 112L234 119L234 126L233 134L230 141L230 148L229 155L230 163L230 170L225 177L226 184M226 184L233 187M233 187L243 188L252 186M252 186L260 179L269 172M269 172L269 163L268 154M185 186L193 187L201 187L210 187L218 186L226 184M241 277L240 270L239 262L241 254L237 247L238 240L239 232L237 225L236 217L234 210L236 202L232 195L233 187M331 260L325 256L322 249L316 244L311 239L304 236L298 232L295 225L290 219L283 217L278 211L273 206L268 201L263 196L257 192L252 186M346 142L338 143L332 148L325 151L317 152L311 157L303 157L297 161L290 166L282 165L276 171L269 172M1080 302L1082 293L1084 284M1084 284L1085 277L1081 270L1083 263L1080 256L1080 249L1082 241L1079 234L1080 227M647 661L643 655L638 650L632 645L627 639M565 712L567 719L566 727L571 734L571 742L571 750L575 757L576 765L575 773L578 780M565 712L570 705L576 698L579 690M627 639L622 644L616 648L612 654L608 660L604 666L599 670L594 675L587 679L584 685L579 690M919 1021L926 1020L934 1022L941 1019L948 1022L956 1018L963 1018L970 1020M844 908L852 906L860 903L867 901L875 898M904 943L897 946L890 947L883 950L876 952L869 954L861 953L854 956M854 956L859 951L864 946L867 939L872 934L875 927L882 922L886 916M841 965L848 961L854 956M225 663L232 663L239 662L246 663L254 663L261 663L268 662L275 665L282 665L289 663L297 661L304 664M283 574L289 579L294 585L301 589L308 592L315 596L320 601L328 604L334 609L340 613L345 619M304 664L308 657L314 652L318 646L324 640L330 636L334 629L339 623L345 619M368 618L364 623M364 623L355 619L345 619M1080 302L1090 302L1100 302M1084 284L1090 280L1095 275L1100 270L1106 265L1109 258L1116 254M1080 227L1085 232L1092 234L1098 237L1105 239L1111 244L1118 246M507 577L514 583M507 577L499 578L490 578L482 579M514 583L513 591L513 599L513 607L513 615L513 622L513 630M482 579L480 586L478 593L472 598L471 605L467 611L465 618L461 624L459 631L455 637L454 644L452 651L446 656L443 662L442 669L439 676L435 682L434 689L430 695M513 630L508 636L503 641L502 649L497 655L495 662L490 668L486 674L482 680L479 687L475 693L470 698M470 698L461 699L452 701L444 703M430 695L437 699L444 703M640 597L635 604L631 611M516 545L515 554L509 561L511 570L507 577M631 611L624 608L617 607L610 606L603 605L597 600L590 600L583 599L575 599L569 595L562 594L555 594L548 590L541 591L534 590L528 585L521 585L514 583M459 569L467 571L474 576L482 579M627 639L627 632L628 625L631 618L631 611M579 690L573 685L567 681L564 673L556 671L552 664L545 661L542 653L536 649L531 644L525 639L518 636L513 630M364 623L369 628L372 635L377 641L379 648L382 655L388 660L391 666L393 674L397 680L402 685L406 691M406 691L414 692L422 693L430 695M565 712L558 710L550 711L543 707L536 706L528 708L521 707L514 703L506 703L499 700L491 703L484 702L477 698L470 698M474 828L474 821L471 814L467 808L469 800L465 793L463 787L461 780L459 773L458 766L456 759L456 751L452 745L453 737L449 731L448 724L446 717L447 709L444 703M313 839L315 832L320 826L321 819L326 813L328 806L328 798L330 791L333 784L338 778L339 771L344 765L347 758L350 752L352 744M406 691L401 697L396 703L389 706L384 712L380 719L374 723L366 727L362 733L357 739L352 744M297 711L296 704L292 697L291 690M297 711L304 716L312 717L318 723L325 726L333 729L339 734M339 734L336 728L334 721L326 717L324 710L321 703L319 696L313 692L312 684L307 678L303 673M291 690L296 680L303 673M183 732L190 729L198 730L205 728L212 726L219 727L226 724L233 724L240 720L247 719L255 719L262 718L269 715L276 716L283 713L290 713L297 711M209 696L216 697L224 695L231 695L239 693L246 691L254 694L261 692L269 692L276 690L284 690L291 690M352 744L345 740L339 734M304 664L303 673M1915 185L1914 192L1910 198L1907 205L1906 212L1903 218L1904 226L1902 233L1897 239L1896 246L1896 254L1894 260L1892 267L1890 274L1887 281L1884 287L1883 294M1019 1054L1012 1055L1005 1056L998 1055L991 1058L984 1057L977 1058L970 1058L963 1060L956 1061L949 1059L942 1063L935 1062L929 1065L922 1065L915 1066L907 1064L900 1065L894 1067M909 1130L906 1123L906 1116L904 1109L902 1102L899 1095L900 1087L899 1080L895 1074L894 1067M893 1065L894 1067M1654 614L1646 614L1640 618L1632 618M1394 421L1402 418L1409 412L1417 407M1741 634L1734 631L1730 625L1722 623L1716 618L1713 611L1706 609L1701 603L1694 600L1688 596L1682 592L1677 586L1670 584L1665 578L1659 575M1654 614L1653 606L1651 598" stroke-width="1.1" stroke-dasharray="2.5 3.5" opacity="0.6"/></g><polygon points="1220,356 1230,336 1245,311 1260,298 1270,293 1290,285 1306,285 1321,290 1331,298 1321,306 1313,313 1306,321 1300,346 1285,341 1278,356 1275,371 1270,386 1275,406 1278,431 1275,451 1260,476 1248,486 1240,476 1230,456 1225,431 1224,406 1228,381 1223,361" fill="#fff"/><polygon points="1601,585 1607,585 1611,630 1615,660 1612,682 1604,682 1604,650 1602,620" fill="#fff"/><path d="M465,142 V180 L470,176 H482 L490,182 H508 V142" fill="none" stroke="#222" stroke-width="2.2" opacity="0.85"/><path d="M893,1108 L898,1102 L906,1104 L910,1100 L914,1110 L912,1118 L904,1117 L897,1118 Z" fill="none" stroke="#222" stroke-width="2" opacity="0.9"/><polygon points="76,651 80,641 85,640 84,647 82,652 88,660 95,668 90,669 80,659 76,655" fill="#fff"/><polygon points="1694,514 1749,505 1756,506 1752,510 1697,520" fill="#fff"/><polygon points="57,162 64,155 70,157 69,168 62,170" fill="#f0a0a0"/><path d="M1425,1166 Q1438,1158 1452,1160" fill="none" stroke="#f5b5b5" stroke-width="3"/><g fill="#444" opacity="0.7"><ellipse cx="155" cy="810" rx="4" ry="1.5"/><ellipse cx="208" cy="831" rx="3" ry="1.2"/><ellipse cx="211" cy="852" rx="1.5" ry="3"/><ellipse cx="171" cy="812" rx="2.5" ry="1.2"/></g><path d="M1480,748 L1492,746 L1494,760 L1482,763 Z" fill="none" stroke="#222" stroke-width="2" opacity="0.9"/>

<g font-size="29" fill="#1a1a1a"><rect x="58.00" y="1191" width="63.14" height="28.5" fill="#201c8c"/><rect x="120.54" y="1191" width="63.14" height="28.5" fill="#1e18b8"/><rect x="183.08" y="1191" width="63.14" height="28.5" fill="#4d4dd8"/><rect x="245.62" y="1191" width="63.14" height="28.5" fill="#7777e0"/><rect x="308.15" y="1191" width="63.14" height="28.5" fill="#a0a0ef"/><rect x="370.69" y="1191" width="63.14" height="28.5" fill="#c8c8f9"/><rect x="433.23" y="1191" width="63.14" height="28.5" fill="#f5f5f5"/><rect x="495.77" y="1191" width="63.14" height="28.5" fill="#f9c8c9"/><rect x="558.31" y="1191" width="63.14" height="28.5" fill="#f09e9f"/><rect x="620.85" y="1191" width="63.14" height="28.5" fill="#e27371"/><rect x="683.38" y="1191" width="63.14" height="28.5" fill="#d84b4b"/><rect x="745.92" y="1191" width="63.14" height="28.5" fill="#b81c1c"/><rect x="808.46" y="1191" width="63.14" height="28.5" fill="#8f1c1c"/><rect x="58.00" y="1191" width="63.14" height="2" fill="#000080"/><rect x="58.00" y="1217" width="63.14" height="2" fill="#000080"/><rect x="120.54" y="1191" width="63.14" height="2" fill="#0000b0"/><rect x="120.54" y="1217" width="63.14" height="2" fill="#0000b0"/><rect x="183.08" y="1191" width="63.14" height="2" fill="#0000e0"/><rect x="183.08" y="1217" width="63.14" height="2" fill="#0000e0"/><rect x="245.62" y="1191" width="63.14" height="2" fill="#5a5ae6"/><rect x="245.62" y="1217" width="63.14" height="2" fill="#5a5ae6"/><rect x="308.15" y="1191" width="63.14" height="2" fill="#9797ee"/><rect x="308.15" y="1217" width="63.14" height="2" fill="#9797ee"/><rect x="558.31" y="1191" width="63.14" height="2" fill="#f09898"/><rect x="558.31" y="1217" width="63.14" height="2" fill="#f09898"/><rect x="620.85" y="1191" width="63.14" height="2" fill="#df6262"/><rect x="620.85" y="1217" width="63.14" height="2" fill="#df6262"/><rect x="683.38" y="1191" width="63.14" height="2" fill="#d10000"/><rect x="683.38" y="1217" width="63.14" height="2" fill="#d10000"/><rect x="745.92" y="1191" width="63.14" height="2" fill="#c80000"/><rect x="745.92" y="1217" width="63.14" height="2" fill="#c80000"/><rect x="808.46" y="1191" width="63.14" height="2" fill="#840000"/><rect x="808.46" y="1217" width="63.14" height="2" fill="#840000"/><polygon points="58.5,1191 29,1205 58.5,1219.5" fill="#001a40"/><polygon points="870.5,1191 899,1205 870.5,1219.5" fill="#6b0010"/><text x="59.5" y="1251" text-anchor="middle">-13</text><text x="122.0" y="1251" text-anchor="middle">-11</text><text x="184.6" y="1251" text-anchor="middle">-9</text><text x="247.1" y="1251" text-anchor="middle">-7</text><text x="309.7" y="1251" text-anchor="middle">-5</text><text x="372.2" y="1251" text-anchor="middle">-3</text><text x="434.7" y="1251" text-anchor="middle">-1</text><text x="497.3" y="1251" text-anchor="middle">1</text><text x="559.8" y="1251" text-anchor="middle">3</text><text x="622.3" y="1251" text-anchor="middle">5</text><text x="684.9" y="1251" text-anchor="middle">7</text><text x="747.4" y="1251" text-anchor="middle">9</text><text x="810.0" y="1251" text-anchor="middle">11</text><text x="872.5" y="1251" text-anchor="middle">13°F</text></g>
</svg>
</body></html>
